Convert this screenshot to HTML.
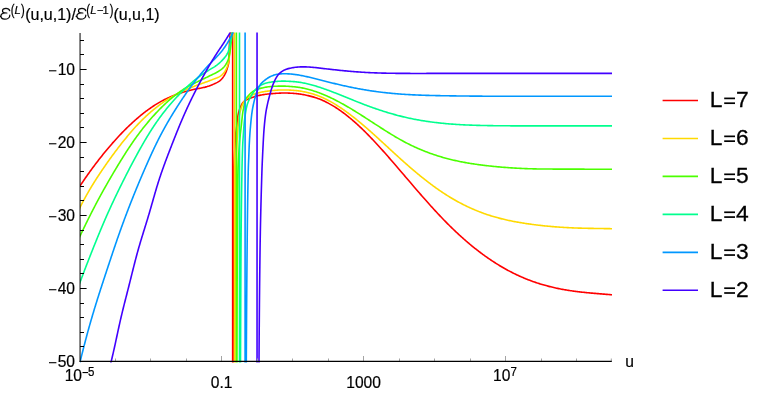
<!DOCTYPE html>
<html><head><meta charset="utf-8"><title>plot</title>
<style>
html,body{margin:0;padding:0;background:#fff;}
svg{display:block;font-family:"Liberation Sans",sans-serif;}
text{will-change:transform;stroke:#000;stroke-width:0.2px;}
.t{will-change:transform;}
</style></head>
<body>
<svg width="761" height="394" viewBox="0 0 761 394">
<rect width="761" height="394" fill="#fff"/>
<defs><clipPath id="c"><rect x="80.0" y="32.4" width="532.0" height="330.2"/></clipPath></defs>
<g clip-path="url(#c)" fill="none" stroke-width="1.6" stroke-linejoin="round" stroke-linecap="butt">
<path d="M70.10,202.40 L70.59,201.51 L71.08,200.63 L71.58,199.75 L72.08,198.87 L72.58,198.00 L73.08,197.13 L73.59,196.26 L74.10,195.40 L74.62,194.54 L75.14,193.68 L75.66,192.83 L76.18,191.97 L76.71,191.12 L77.24,190.28 L77.77,189.43 L78.31,188.59 L78.85,187.75 L79.39,186.91 L79.94,186.08 L80.48,185.25 L81.03,184.42 L81.59,183.59 L82.14,182.76 L82.70,181.93 L83.26,181.11 L83.82,180.29 L84.38,179.46 L84.95,178.64 L85.52,177.82 L86.09,177.01 L86.66,176.19 L87.24,175.37 L87.81,174.56 L88.39,173.75 L88.97,172.93 L89.55,172.12 L90.14,171.31 L90.72,170.50 L91.31,169.69 L91.90,168.89 L92.50,168.08 L93.09,167.28 L93.69,166.48 L94.28,165.67 L94.88,164.87 L95.49,164.08 L96.09,163.28 L96.70,162.48 L97.31,161.69 L97.92,160.90 L98.53,160.11 L99.14,159.32 L99.76,158.53 L100.38,157.74 L101.00,156.96 L101.62,156.17 L102.24,155.39 L102.87,154.61 L103.50,153.84 L104.13,153.06 L104.76,152.29 L105.39,151.52 L106.03,150.74 L106.67,149.98 L107.31,149.21 L107.95,148.45 L108.59,147.68 L109.24,146.92 L109.89,146.16 L110.54,145.41 L111.19,144.65 L111.84,143.90 L112.50,143.15 L113.16,142.40 L113.82,141.66 L114.48,140.92 L115.15,140.17 L115.82,139.44 L116.49,138.70 L117.16,137.97 L117.84,137.23 L118.51,136.50 L119.19,135.78 L119.88,135.05 L120.56,134.33 L121.25,133.61 L121.94,132.89 L122.64,132.18 L123.34,131.46 L124.04,130.76 L124.74,130.05 L125.44,129.34 L126.15,128.64 L126.86,127.94 L127.58,127.25 L128.30,126.55 L129.02,125.86 L129.74,125.17 L130.47,124.49 L131.20,123.80 L131.93,123.12 L132.67,122.45 L133.41,121.77 L134.15,121.10 L134.90,120.43 L135.65,119.77 L136.41,119.10 L137.16,118.45 L137.93,117.79 L138.69,117.14 L139.46,116.50 L140.23,115.86 L141.00,115.22 L141.78,114.58 L142.57,113.96 L143.35,113.33 L144.14,112.72 L144.94,112.10 L145.73,111.49 L146.53,110.89 L147.34,110.29 L148.15,109.70 L148.96,109.12 L149.77,108.54 L150.59,107.97 L151.42,107.40 L152.25,106.84 L153.08,106.29 L153.91,105.74 L154.75,105.20 L155.59,104.67 L156.44,104.14 L157.29,103.63 L158.15,103.12 L159.01,102.61 L159.87,102.12 L160.74,101.63 L161.61,101.15 L162.49,100.68 L163.37,100.22 L164.25,99.77 L165.14,99.32 L166.03,98.89 L166.93,98.46 L167.83,98.04 L168.73,97.62 L169.64,97.22 L170.55,96.82 L171.46,96.43 L172.38,96.05 L173.30,95.68 L174.23,95.31 L175.16,94.95 L176.09,94.60 L177.03,94.26 L177.96,93.93 L178.91,93.60 L179.85,93.28 L180.80,92.97 L181.75,92.66 L182.71,92.36 L183.66,92.07 L184.62,91.79 L185.59,91.51 L186.55,91.24 L187.52,90.98 L188.49,90.73 L189.46,90.48 L190.44,90.24 L191.42,90.00 L192.40,89.78 L193.38,89.56 L194.37,89.34 L195.36,89.14 L196.35,88.94 L197.34,88.74 L198.33,88.55 L199.33,88.36 L200.32,88.17 L201.31,87.97 L202.30,87.77 L203.27,87.57 L204.24,87.35 L205.21,87.12 L206.17,86.86 L207.12,86.59 L208.06,86.30 L209.00,85.99 L209.93,85.65 L210.86,85.30 L211.78,84.92 L212.70,84.54 L213.62,84.13 L214.55,83.72 L215.47,83.30 L216.39,82.87 L217.29,82.41 L218.17,81.92 L218.99,81.38 L219.78,80.81 L220.53,80.18 L221.24,79.50 L221.92,78.75 L222.55,77.97 L223.15,77.16 L223.72,76.34 L224.25,75.49 L224.75,74.62 L225.22,73.73 L225.66,72.83 L226.05,71.92 L226.42,70.99 L226.75,70.05 L227.06,69.10 L227.35,68.14 L227.63,67.17 L227.90,66.21 L228.17,65.24 L228.43,64.27 L228.63,63.29 L228.77,62.31 L228.86,61.33 L228.93,60.34 L228.97,59.34 L229.01,58.34 L229.05,57.34 L229.08,56.34 L229.10,55.33 L229.13,54.33 L229.16,53.32 L229.19,52.32 L229.22,51.32 L229.25,50.32 L229.29,49.32 L229.32,48.32 L229.35,47.32 L229.38,46.32 L229.41,45.32 L229.45,44.33 L229.49,43.33 L229.54,42.33 L229.60,41.33 L229.67,40.33 L229.74,39.34 L229.82,38.34 L229.90,37.34 L229.98,36.34 L230.06,35.35 L230.12,34.35 L230.18,33.35 L230.23,32.35 L230.27,31.35 L230.31,30.35 L230.35,29.36 L230.39,28.36 L230.43,27.36 L230.46,26.36 L230.49,25.36 L230.52,24.36 L230.54,23.36 L230.56,22.36 L230.58,21.40 L230.59,20.49 M232.65,28.00 L232.65,366.40 M233.00,380.00 L233.00,379.00 L233.01,378.00 L233.01,377.00 L233.01,376.00 L233.02,375.00 L233.02,374.00 L233.02,373.00 L233.03,372.00 L233.03,371.00 L233.03,370.00 L233.03,369.00 L233.04,368.00 L233.04,367.00 L233.04,366.00 L233.05,365.00 L233.05,364.00 L233.05,363.00 L233.06,362.00 L233.06,361.00 L233.06,360.00 L233.07,359.00 L233.07,358.00 L233.07,357.00 L233.08,356.00 L233.08,355.00 L233.08,354.00 L233.08,353.00 L233.09,352.00 L233.09,351.00 L233.09,350.00 L233.10,349.00 L233.10,348.00 L233.10,347.00 L233.10,346.00 L233.11,345.00 L233.11,344.00 L233.11,343.00 L233.11,342.00 L233.12,341.00 L233.12,340.00 L233.12,339.00 L233.12,338.00 L233.13,337.00 L233.13,336.00 L233.13,335.00 L233.13,334.00 L233.14,333.00 L233.14,332.00 L233.14,331.00 L233.14,330.00 L233.15,329.00 L233.15,328.00 L233.15,327.00 L233.15,326.00 L233.16,325.00 L233.16,324.00 L233.16,323.00 L233.16,322.00 L233.17,321.00 L233.17,320.00 L233.17,319.00 L233.17,318.00 L233.18,317.00 L233.18,316.00 L233.18,315.00 L233.18,314.00 L233.19,313.00 L233.19,312.00 L233.19,311.00 L233.19,310.00 L233.20,309.00 L233.20,308.00 L233.20,307.00 L233.21,306.00 L233.21,305.00 L233.21,304.00 L233.21,303.00 L233.22,302.00 L233.22,301.00 L233.22,300.00 L233.22,299.00 L233.23,298.00 L233.23,297.00 L233.23,296.00 L233.23,295.00 L233.24,294.00 L233.24,293.00 L233.24,292.00 L233.25,291.00 L233.25,290.00 L233.25,289.00 L233.26,288.00 L233.26,287.00 L233.26,286.00 L233.26,285.00 L233.27,284.00 L233.27,283.00 L233.27,282.00 L233.28,281.00 L233.28,280.00 L233.28,279.00 L233.29,278.00 L233.29,277.00 L233.29,276.00 L233.30,275.00 L233.30,274.00 L233.30,273.00 L233.31,272.00 L233.31,271.00 L233.32,270.00 L233.32,269.00 L233.32,268.00 L233.33,267.00 L233.33,266.00 L233.33,265.00 L233.34,264.00 L233.34,263.00 L233.35,262.00 L233.35,261.00 L233.35,260.00 L233.36,259.00 L233.36,258.00 L233.37,257.00 L233.37,256.00 L233.38,255.00 L233.38,254.00 L233.39,253.00 L233.39,252.00 L233.40,251.00 L233.40,250.00 L233.40,249.00 L233.41,248.00 L233.41,247.00 L233.42,246.00 L233.43,245.00 L233.43,244.00 L233.44,243.00 L233.44,242.00 L233.45,241.00 L233.45,240.00 L233.46,239.00 L233.46,238.00 L233.47,237.00 L233.48,236.00 L233.48,235.00 L233.49,234.00 L233.49,233.00 L233.50,232.00 L233.51,231.00 L233.51,230.00 L233.52,229.00 L233.53,228.00 L233.54,227.00 L233.54,226.00 L233.55,225.00 L233.56,224.00 L233.56,223.00 L233.57,222.00 L233.58,221.00 L233.59,220.00 L233.60,219.00 L233.60,218.00 L233.61,217.00 L233.62,216.00 L233.63,215.00 L233.64,214.00 L233.65,213.00 L233.66,212.00 L233.67,211.00 L233.67,210.00 L233.68,209.00 L233.69,208.00 L233.70,207.00 L233.71,206.00 L233.72,205.00 L233.73,204.00 L233.74,203.00 L233.76,202.00 L233.77,201.00 L233.78,200.00 L233.79,199.00 L233.80,198.00 L233.81,197.00 L233.82,196.00 L233.84,195.00 L233.85,194.00 L233.86,193.00 L233.87,192.00 L233.89,191.00 L233.90,190.00 L233.91,189.00 L233.92,188.00 L233.94,187.00 L233.95,186.00 L233.97,185.00 L233.98,184.00 L233.99,183.00 L234.01,182.00 L234.02,181.00 L234.04,180.00 L234.05,179.00 L234.07,178.00 L234.08,177.00 L234.10,176.00 L234.12,175.00 L234.13,174.00 L234.15,173.00 L234.17,172.00 L234.18,171.00 L234.20,170.00 L234.22,169.00 L234.24,168.01 L234.26,167.01 L234.28,166.00 L234.30,165.00 L234.32,164.00 L234.35,163.00 L234.38,162.00 L234.40,161.00 L234.43,160.00 L234.46,159.00 L234.49,158.00 L234.52,157.00 L234.56,156.00 L234.59,155.00 L234.63,154.00 L234.66,153.00 L234.70,152.00 L234.74,151.00 L234.79,150.00 L234.83,149.00 L234.87,148.00 L234.92,147.00 L234.97,146.00 L235.02,145.00 L235.07,144.00 L235.12,143.01 L235.17,142.01 L235.23,141.01 L235.29,140.01 L235.35,139.02 L235.41,138.02 L235.47,137.02 L235.54,136.03 L235.61,135.03 L235.69,134.04 L235.79,133.05 L235.91,132.05 L236.05,131.06 L236.19,130.07 L236.34,129.08 L236.48,128.09 L236.62,127.10 L236.76,126.11 L236.87,125.11 L236.97,124.12 L237.06,123.12 L237.13,122.12 L237.20,121.13 L237.29,120.13 L237.39,119.14 L237.52,118.15 L237.67,117.16 L237.85,116.17 L238.04,115.18 L238.25,114.20 L238.48,113.23 L238.72,112.26 L238.98,111.29 L239.26,110.33 L239.56,109.36 L239.89,108.40 L240.26,107.45 L240.65,106.52 L241.07,105.62 L241.52,104.74 L242.02,103.90 L242.59,103.08 L243.22,102.30 L243.92,101.58 L244.67,100.93 L245.47,100.38 L246.32,99.89 L247.22,99.46 L248.15,99.06 L249.10,98.69 L250.04,98.33 L250.99,97.97 L251.93,97.62 L252.87,97.27 L253.81,96.93 L254.76,96.60 L255.72,96.30 L256.68,96.02 L257.64,95.77 L258.61,95.55 L259.58,95.35 L260.56,95.15 L261.54,94.97 L262.52,94.80 L263.51,94.63 L264.50,94.48 L265.49,94.33 L266.49,94.19 L267.48,94.06 L268.48,93.95 L269.48,93.84 L270.48,93.75 L271.47,93.66 L272.47,93.58 L273.46,93.51 L274.46,93.44 L275.46,93.37 L276.46,93.30 L277.46,93.24 L278.45,93.18 L279.45,93.13 L280.45,93.09 L281.45,93.06 L282.45,93.04 L283.45,93.02 L284.45,93.02 L285.45,93.02 L286.45,93.04 L287.45,93.06 L288.45,93.10 L289.45,93.14 L290.45,93.19 L291.45,93.24 L292.45,93.31 L293.44,93.38 L294.44,93.46 L295.43,93.55 L296.42,93.65 L297.41,93.76 L298.40,93.88 L299.39,94.01 L300.37,94.15 L301.35,94.31 L302.33,94.47 L303.31,94.64 L304.29,94.82 L305.26,95.02 L306.23,95.22 L307.20,95.43 L308.17,95.65 L309.13,95.88 L310.09,96.11 L311.05,96.36 L312.01,96.61 L312.96,96.87 L313.91,97.14 L314.86,97.42 L315.81,97.73 L316.75,98.05 L317.69,98.39 L318.62,98.73 L319.56,99.09 L320.49,99.47 L321.41,99.85 L322.33,100.25 L323.25,100.66 L324.17,101.08 L325.08,101.52 L325.98,101.96 L326.88,102.41 L327.78,102.88 L328.67,103.35 L329.55,103.83 L330.43,104.33 L331.31,104.83 L332.18,105.34 L333.05,105.86 L333.92,106.39 L334.79,106.92 L335.65,107.47 L336.51,108.03 L337.37,108.60 L338.23,109.17 L339.08,109.75 L339.93,110.34 L340.78,110.94 L341.62,111.54 L342.45,112.15 L343.27,112.75 L344.08,113.36 L344.89,113.97 L345.68,114.58 L346.46,115.19 L347.23,115.80 L348.00,116.41 L348.75,117.02 L349.51,117.64 L350.25,118.26 L351.00,118.88 L351.74,119.51 L352.49,120.14 L353.23,120.78 L353.97,121.42 L354.70,122.07 L355.44,122.72 L356.16,123.37 L356.89,124.02 L357.60,124.68 L358.31,125.33 L359.02,125.98 L359.72,126.64 L360.42,127.29 L361.11,127.95 L361.81,128.62 L362.51,129.29 L363.21,129.97 L363.92,130.66 L364.62,131.35 L365.32,132.05 L366.03,132.75 L366.73,133.45 L367.43,134.16 L368.12,134.86 L368.81,135.57 L369.50,136.27 L370.18,136.97 L370.86,137.68 L371.53,138.38 L372.21,139.09 L372.88,139.81 L373.56,140.53 L374.25,141.25 L374.93,141.99 L375.62,142.72 L376.31,143.47 L377.00,144.22 L377.69,144.97 L378.38,145.72 L379.06,146.46 L379.73,147.21 L380.40,147.95 L381.07,148.69 L381.73,149.42 L382.38,150.15 L383.03,150.88 L383.68,151.61 L384.33,152.34 L384.98,153.07 L385.64,153.81 L386.29,154.55 L386.95,155.30 L387.62,156.06 L388.29,156.83 L388.97,157.60 L389.64,158.38 L390.32,159.16 L391.00,159.94 L391.67,160.71 L392.34,161.49 L393.01,162.26 L393.67,163.02 L394.32,163.78 L394.96,164.53 L395.61,165.28 L396.24,166.02 L396.87,166.76 L397.51,167.49 L398.14,168.23 L398.77,168.97 L399.40,169.71 L400.04,170.46 L400.69,171.22 L401.34,171.98 L402.00,172.75 L402.66,173.53 L403.33,174.31 L404.00,175.10 L404.68,175.89 L405.35,176.68 L406.03,177.47 L406.70,178.26 L407.36,179.04 L408.02,179.81 L408.68,180.58 L409.33,181.33 L409.97,182.08 L410.60,182.83 L411.24,183.56 L411.86,184.30 L412.49,185.03 L413.12,185.76 L413.74,186.49 L414.37,187.22 L415.01,187.96 L415.65,188.70 L416.30,189.45 L416.96,190.21 L417.62,190.98 L418.29,191.76 L418.97,192.54 L419.65,193.32 L420.34,194.11 L421.03,194.90 L421.72,195.69 L422.41,196.48 L423.10,197.26 L423.78,198.04 L424.47,198.82 L425.14,199.58 L425.82,200.34 L426.48,201.10 L427.14,201.84 L427.80,202.58 L428.45,203.31 L429.10,204.03 L429.75,204.75 L430.39,205.46 L431.03,206.17 L431.67,206.88 L432.31,207.58 L432.95,208.29 L433.59,208.99 L434.23,209.69 L434.88,210.40 L435.53,211.10 L436.18,211.81 L436.84,212.52 L437.50,213.23 L438.17,213.94 L438.84,214.66 L439.52,215.37 L440.20,216.10 L440.89,216.82 L441.58,217.54 L442.27,218.27 L442.97,219.00 L443.68,219.72 L444.38,220.45 L445.09,221.18 L445.80,221.90 L446.52,222.63 L447.23,223.35 L447.95,224.07 L448.67,224.78 L449.39,225.50 L450.11,226.21 L450.83,226.92 L451.55,227.63 L452.28,228.33 L453.00,229.03 L453.73,229.73 L454.46,230.43 L455.19,231.12 L455.92,231.81 L456.66,232.50 L457.39,233.19 L458.13,233.87 L458.87,234.55 L459.61,235.23 L460.35,235.91 L461.10,236.59 L461.85,237.26 L462.60,237.93 L463.35,238.60 L464.10,239.26 L464.86,239.93 L465.62,240.59 L466.38,241.25 L467.14,241.90 L467.90,242.55 L468.67,243.20 L469.43,243.84 L470.20,244.49 L470.97,245.12 L471.74,245.76 L472.51,246.39 L473.28,247.02 L474.06,247.64 L474.83,248.26 L475.61,248.88 L476.39,249.49 L477.17,250.10 L477.96,250.71 L478.74,251.32 L479.53,251.92 L480.32,252.51 L481.11,253.11 L481.90,253.70 L482.70,254.29 L483.50,254.87 L484.30,255.46 L485.11,256.04 L485.92,256.61 L486.73,257.19 L487.55,257.76 L488.37,258.33 L489.20,258.90 L490.03,259.46 L490.86,260.03 L491.70,260.59 L492.54,261.14 L493.39,261.70 L494.24,262.25 L495.10,262.79 L495.95,263.33 L496.81,263.87 L497.67,264.41 L498.53,264.94 L499.40,265.46 L500.26,265.98 L501.13,266.49 L501.99,267.00 L502.86,267.51 L503.73,268.00 L504.60,268.50 L505.48,268.99 L506.35,269.47 L507.23,269.95 L508.10,270.43 L508.98,270.89 L509.87,271.36 L510.75,271.82 L511.64,272.28 L512.53,272.73 L513.42,273.17 L514.31,273.61 L515.20,274.05 L516.10,274.48 L517.00,274.91 L517.90,275.33 L518.81,275.75 L519.71,276.16 L520.62,276.56 L521.53,276.97 L522.45,277.36 L523.36,277.75 L524.28,278.14 L525.20,278.52 L526.12,278.90 L527.04,279.27 L527.97,279.64 L528.90,280.00 L529.83,280.35 L530.77,280.70 L531.70,281.05 L532.64,281.39 L533.58,281.72 L534.52,282.05 L535.47,282.37 L536.42,282.69 L537.36,283.01 L538.32,283.31 L539.27,283.62 L540.22,283.91 L541.18,284.21 L542.14,284.49 L543.10,284.78 L544.06,285.05 L545.02,285.32 L545.98,285.59 L546.95,285.85 L547.92,286.11 L548.88,286.36 L549.85,286.60 L550.82,286.85 L551.80,287.08 L552.77,287.31 L553.74,287.54 L554.72,287.76 L555.70,287.98 L556.67,288.19 L557.65,288.40 L558.63,288.60 L559.61,288.80 L560.60,288.99 L561.58,289.18 L562.56,289.36 L563.55,289.54 L564.53,289.72 L565.52,289.89 L566.51,290.06 L567.49,290.22 L568.48,290.38 L569.47,290.53 L570.46,290.68 L571.45,290.83 L572.44,290.97 L573.43,291.11 L574.42,291.24 L575.41,291.37 L576.40,291.50 L577.39,291.62 L578.39,291.74 L579.38,291.86 L580.37,291.98 L581.37,292.09 L582.36,292.20 L583.35,292.30 L584.35,292.41 L585.34,292.51 L586.33,292.61 L587.33,292.71 L588.32,292.80 L589.32,292.89 L590.31,292.99 L591.31,293.08 L592.30,293.16 L593.30,293.25 L594.29,293.34 L595.29,293.42 L596.28,293.51 L597.28,293.59 L598.27,293.67 L599.27,293.76 L600.26,293.84 L601.26,293.92 L602.25,294.00 L603.24,294.08 L604.23,294.16 L605.21,294.25 L606.18,294.33 L607.15,294.41 L608.11,294.49 L609.05,294.57 L609.98,294.65 L610.89,294.73 L611.78,294.81 L612.64,294.88 L613.47,294.96 L614.28,295.03 L615.06,295.10" stroke="#ff0000"/>
<path d="M69.87,227.06 L70.35,226.19 L70.83,225.32 L71.31,224.45 L71.79,223.57 L72.26,222.69 L72.72,221.81 L73.19,220.93 L73.65,220.04 L74.11,219.16 L74.56,218.27 L75.02,217.38 L75.47,216.48 L75.92,215.59 L76.37,214.70 L76.82,213.80 L77.27,212.91 L77.72,212.01 L78.16,211.11 L78.61,210.22 L79.06,209.32 L79.51,208.43 L79.96,207.53 L80.41,206.64 L80.86,205.74 L81.32,204.85 L81.78,203.96 L82.23,203.07 L82.70,202.18 L83.16,201.29 L83.63,200.41 L84.10,199.53 L84.58,198.65 L85.06,197.77 L85.54,196.89 L86.02,196.02 L86.51,195.14 L87.00,194.27 L87.50,193.41 L88.00,192.54 L88.50,191.67 L89.00,190.81 L89.51,189.95 L90.02,189.09 L90.53,188.23 L91.04,187.38 L91.56,186.52 L92.08,185.67 L92.60,184.82 L93.13,183.97 L93.66,183.12 L94.19,182.27 L94.72,181.43 L95.26,180.59 L95.79,179.74 L96.33,178.90 L96.88,178.06 L97.42,177.23 L97.97,176.39 L98.51,175.55 L99.06,174.72 L99.62,173.89 L100.17,173.05 L100.73,172.22 L101.28,171.39 L101.84,170.56 L102.40,169.74 L102.97,168.91 L103.53,168.08 L104.09,167.26 L104.66,166.43 L105.23,165.61 L105.80,164.79 L106.37,163.97 L106.95,163.15 L107.52,162.33 L108.10,161.51 L108.68,160.70 L109.26,159.88 L109.84,159.07 L110.43,158.26 L111.01,157.44 L111.60,156.63 L112.19,155.83 L112.78,155.02 L113.37,154.21 L113.97,153.41 L114.56,152.61 L115.16,151.80 L115.76,151.00 L116.36,150.20 L116.97,149.41 L117.57,148.61 L118.18,147.82 L118.79,147.02 L119.40,146.23 L120.01,145.44 L120.63,144.65 L121.25,143.87 L121.86,143.08 L122.49,142.30 L123.11,141.52 L123.73,140.74 L124.36,139.96 L124.99,139.18 L125.62,138.41 L126.25,137.64 L126.89,136.87 L127.53,136.10 L128.17,135.33 L128.81,134.57 L129.45,133.81 L130.10,133.05 L130.75,132.29 L131.41,131.53 L132.06,130.78 L132.72,130.03 L133.38,129.29 L134.05,128.54 L134.71,127.80 L135.39,127.06 L136.06,126.33 L136.74,125.60 L137.42,124.87 L138.10,124.14 L138.79,123.42 L139.48,122.70 L140.18,121.99 L140.88,121.27 L141.58,120.56 L142.28,119.86 L142.99,119.16 L143.71,118.46 L144.43,117.77 L145.15,117.08 L145.87,116.39 L146.61,115.71 L147.34,115.04 L148.08,114.36 L148.82,113.69 L149.57,113.03 L150.32,112.37 L151.08,111.71 L151.84,111.06 L152.61,110.42 L153.38,109.78 L154.15,109.14 L154.93,108.51 L155.71,107.88 L156.50,107.26 L157.29,106.65 L158.09,106.04 L158.88,105.43 L159.69,104.83 L160.50,104.24 L161.31,103.65 L162.12,103.07 L162.94,102.49 L163.76,101.92 L164.59,101.36 L165.42,100.80 L166.26,100.25 L167.10,99.70 L167.94,99.17 L168.79,98.63 L169.64,98.11 L170.49,97.59 L171.35,97.07 L172.21,96.57 L173.08,96.07 L173.94,95.58 L174.82,95.09 L175.69,94.62 L176.57,94.15 L177.46,93.68 L178.34,93.23 L179.23,92.78 L180.13,92.34 L181.02,91.90 L181.92,91.48 L182.83,91.05 L183.73,90.64 L184.64,90.23 L185.55,89.83 L186.47,89.43 L187.38,89.04 L188.30,88.65 L189.22,88.27 L190.15,87.89 L191.07,87.51 L192.00,87.14 L192.93,86.78 L193.86,86.42 L194.80,86.06 L195.73,85.71 L196.67,85.35 L197.61,85.01 L198.55,84.66 L199.49,84.32 L200.43,83.98 L201.38,83.64 L202.32,83.31 L203.27,82.98 L204.22,82.66 L205.17,82.34 L206.12,82.01 L207.06,81.67 L208.00,81.33 L208.93,80.97 L209.86,80.61 L210.79,80.24 L211.72,79.87 L212.65,79.49 L213.59,79.12 L214.54,78.77 L215.50,78.43 L216.46,78.08 L217.40,77.73 L218.32,77.35 L219.18,76.91 L220.01,76.42 L220.81,75.87 L221.58,75.24 L222.32,74.55 L223.02,73.81 L223.68,73.03 L224.28,72.24 L224.84,71.42 L225.36,70.58 L225.84,69.70 L226.29,68.80 L226.71,67.88 L227.10,66.95 L227.45,66.01 L227.78,65.07 L228.09,64.11 L228.37,63.15 L228.62,62.18 L228.82,61.20 L228.98,60.22 L229.12,59.24 L229.24,58.25 L229.35,57.25 L229.44,56.25 L229.53,55.25 L229.62,54.25 L229.70,53.25 L229.78,52.26 L229.85,51.26 L229.93,50.26 L229.99,49.26 L230.06,48.27 L230.12,47.27 L230.18,46.27 L230.24,45.27 L230.31,44.27 L230.37,43.27 L230.45,42.28 L230.52,41.28 L230.61,40.28 L230.70,39.29 L230.80,38.29 L230.90,37.30 L231.00,36.30 L231.10,35.31 L231.19,34.31 L231.27,33.32 L231.34,32.32 L231.41,31.32 L231.48,30.32 L231.54,29.33 L231.61,28.33 L231.67,27.33 L231.72,26.33 L231.78,25.33 L231.83,24.33 L231.87,23.34 L231.91,22.34 L231.95,21.38 L231.98,20.49 M234.50,28.00 L234.50,366.40 M234.90,380.00 L234.90,379.00 L234.91,378.00 L234.91,377.00 L234.91,376.00 L234.91,375.00 L234.92,374.00 L234.92,373.00 L234.92,372.00 L234.92,371.00 L234.93,370.00 L234.93,369.00 L234.93,368.00 L234.93,367.00 L234.94,366.00 L234.94,365.00 L234.94,364.00 L234.94,363.00 L234.95,362.00 L234.95,361.00 L234.95,360.00 L234.96,359.00 L234.96,358.00 L234.96,357.00 L234.96,356.00 L234.97,355.00 L234.97,354.00 L234.97,353.00 L234.97,352.00 L234.98,351.00 L234.98,350.00 L234.98,349.00 L234.99,348.00 L234.99,347.00 L234.99,346.00 L234.99,345.00 L235.00,344.00 L235.00,343.00 L235.00,342.00 L235.00,341.00 L235.01,340.00 L235.01,339.00 L235.01,338.00 L235.01,337.00 L235.02,336.00 L235.02,335.00 L235.02,334.00 L235.02,333.00 L235.03,332.00 L235.03,331.00 L235.03,330.00 L235.03,329.00 L235.04,328.00 L235.04,327.00 L235.04,326.00 L235.04,325.00 L235.05,324.00 L235.05,323.00 L235.05,322.00 L235.05,321.00 L235.06,320.00 L235.06,319.00 L235.06,318.00 L235.06,317.00 L235.07,316.00 L235.07,315.00 L235.07,314.00 L235.08,313.00 L235.08,312.00 L235.08,311.00 L235.08,310.00 L235.09,309.00 L235.09,308.00 L235.09,307.00 L235.09,306.00 L235.10,305.00 L235.10,304.00 L235.10,303.00 L235.11,302.00 L235.11,301.00 L235.11,300.00 L235.11,299.00 L235.12,298.00 L235.12,297.00 L235.12,296.00 L235.13,295.00 L235.13,294.00 L235.13,293.00 L235.14,292.00 L235.14,291.00 L235.14,290.00 L235.14,289.00 L235.15,288.00 L235.15,287.00 L235.15,286.00 L235.16,285.00 L235.16,284.00 L235.16,283.00 L235.17,282.00 L235.17,281.00 L235.17,280.00 L235.18,279.00 L235.18,278.00 L235.19,277.00 L235.19,276.00 L235.19,275.00 L235.20,274.00 L235.20,273.00 L235.20,272.00 L235.21,271.00 L235.21,270.00 L235.22,269.00 L235.22,268.00 L235.22,267.00 L235.23,266.00 L235.23,265.00 L235.24,264.00 L235.24,263.00 L235.24,262.00 L235.25,261.00 L235.25,260.00 L235.26,259.00 L235.26,258.00 L235.27,257.00 L235.27,256.00 L235.28,255.00 L235.28,254.00 L235.29,253.00 L235.29,252.00 L235.30,251.00 L235.30,250.00 L235.31,249.00 L235.31,248.00 L235.32,247.00 L235.32,246.00 L235.33,245.00 L235.33,244.00 L235.34,243.00 L235.34,242.00 L235.35,241.00 L235.35,240.00 L235.36,239.00 L235.37,238.00 L235.37,237.00 L235.38,236.00 L235.38,235.00 L235.39,234.00 L235.40,233.00 L235.40,232.00 L235.41,231.00 L235.42,230.00 L235.42,229.00 L235.43,228.00 L235.44,227.00 L235.45,226.00 L235.45,225.00 L235.46,224.00 L235.47,223.00 L235.48,222.00 L235.48,221.00 L235.49,220.00 L235.50,219.00 L235.51,218.00 L235.52,217.00 L235.52,216.00 L235.53,215.00 L235.54,214.00 L235.55,213.00 L235.56,212.00 L235.57,211.00 L235.58,210.00 L235.59,209.00 L235.60,208.00 L235.61,207.00 L235.62,206.00 L235.63,205.00 L235.64,204.00 L235.65,203.00 L235.66,202.00 L235.67,201.00 L235.68,200.00 L235.69,199.00 L235.70,198.00 L235.72,197.00 L235.73,196.00 L235.74,195.00 L235.75,194.00 L235.76,193.00 L235.78,192.00 L235.79,191.00 L235.80,190.00 L235.81,189.00 L235.83,188.00 L235.84,187.00 L235.86,186.00 L235.87,185.00 L235.88,184.00 L235.90,183.00 L235.91,182.00 L235.93,181.00 L235.94,180.00 L235.96,179.00 L235.97,178.00 L235.99,177.00 L236.00,176.00 L236.02,175.00 L236.03,174.00 L236.05,173.00 L236.07,172.00 L236.08,171.00 L236.10,170.00 L236.12,169.00 L236.14,168.01 L236.16,167.01 L236.18,166.01 L236.20,165.01 L236.23,164.01 L236.25,163.01 L236.28,162.01 L236.30,161.01 L236.33,160.01 L236.36,159.01 L236.39,158.01 L236.43,157.01 L236.46,156.01 L236.49,155.01 L236.53,154.01 L236.57,153.01 L236.60,152.01 L236.64,151.01 L236.68,150.01 L236.72,149.01 L236.77,148.01 L236.81,147.01 L236.85,146.01 L236.90,145.01 L236.94,144.01 L236.99,143.02 L237.04,142.02 L237.09,141.02 L237.14,140.02 L237.19,139.02 L237.24,138.02 L237.29,137.02 L237.35,136.03 L237.40,135.03 L237.46,134.03 L237.52,133.03 L237.59,132.04 L237.67,131.04 L237.75,130.04 L237.83,129.04 L237.92,128.05 L238.01,127.05 L238.11,126.06 L238.20,125.06 L238.30,124.07 L238.41,123.07 L238.51,122.07 L238.62,121.08 L238.74,120.08 L238.86,119.08 L238.98,118.09 L239.12,117.10 L239.27,116.11 L239.42,115.12 L239.60,114.14 L239.79,113.17 L240.02,112.20 L240.29,111.24 L240.58,110.28 L240.88,109.32 L241.19,108.36 L241.48,107.40 L241.79,106.43 L242.12,105.49 L242.47,104.56 L242.88,103.66 L243.34,102.79 L243.87,101.94 L244.46,101.12 L245.09,100.33 L245.76,99.60 L246.46,98.90 L247.20,98.24 L247.97,97.60 L248.78,96.99 L249.62,96.41 L250.48,95.86 L251.36,95.36 L252.24,94.90 L253.14,94.50 L254.05,94.13 L254.98,93.79 L255.93,93.47 L256.89,93.18 L257.87,92.91 L258.85,92.66 L259.83,92.44 L260.81,92.23 L261.79,92.04 L262.77,91.86 L263.75,91.68 L264.74,91.52 L265.73,91.37 L266.72,91.22 L267.72,91.09 L268.71,90.97 L269.71,90.85 L270.70,90.75 L271.70,90.65 L272.69,90.55 L273.69,90.46 L274.68,90.37 L275.68,90.29 L276.68,90.21 L277.68,90.14 L278.68,90.07 L279.68,90.02 L280.67,89.98 L281.67,89.95 L282.67,89.94 L283.67,89.93 L284.67,89.94 L285.67,89.96 L286.67,89.99 L287.67,90.02 L288.67,90.07 L289.67,90.12 L290.67,90.17 L291.67,90.23 L292.67,90.30 L293.66,90.38 L294.65,90.46 L295.65,90.55 L296.64,90.65 L297.63,90.76 L298.61,90.89 L299.60,91.02 L300.58,91.16 L301.56,91.32 L302.54,91.49 L303.51,91.67 L304.49,91.86 L305.46,92.06 L306.43,92.28 L307.40,92.50 L308.37,92.74 L309.33,92.99 L310.29,93.24 L311.25,93.51 L312.21,93.78 L313.16,94.07 L314.11,94.36 L315.06,94.67 L316.01,95.00 L316.95,95.33 L317.89,95.68 L318.83,96.04 L319.76,96.42 L320.69,96.80 L321.61,97.19 L322.53,97.60 L323.45,98.01 L324.36,98.44 L325.27,98.87 L326.17,99.31 L327.07,99.76 L327.97,100.22 L328.86,100.69 L329.74,101.17 L330.62,101.65 L331.50,102.14 L332.37,102.64 L333.24,103.14 L334.10,103.65 L334.96,104.17 L335.82,104.69 L336.67,105.22 L337.52,105.75 L338.37,106.30 L339.22,106.84 L340.06,107.40 L340.90,107.96 L341.74,108.53 L342.58,109.10 L343.41,109.68 L344.25,110.26 L345.08,110.85 L345.90,111.44 L346.73,112.04 L347.54,112.64 L348.36,113.24 L349.16,113.84 L349.97,114.44 L350.76,115.05 L351.56,115.66 L352.35,116.27 L353.13,116.88 L353.92,117.50 L354.70,118.12 L355.48,118.74 L356.26,119.37 L357.04,120.00 L357.82,120.64 L358.59,121.27 L359.36,121.91 L360.13,122.54 L360.88,123.17 L361.63,123.80 L362.37,124.42 L363.10,125.05 L363.83,125.67 L364.55,126.28 L365.27,126.90 L365.98,127.52 L366.70,128.14 L367.41,128.77 L368.14,129.40 L368.86,130.04 L369.60,130.69 L370.34,131.34 L371.08,132.00 L371.82,132.66 L372.57,133.33 L373.31,134.00 L374.06,134.67 L374.80,135.34 L375.54,136.01 L376.28,136.68 L377.02,137.35 L377.75,138.02 L378.49,138.69 L379.23,139.36 L379.97,140.04 L380.71,140.72 L381.45,141.40 L382.20,142.09 L382.95,142.78 L383.71,143.47 L384.46,144.17 L385.22,144.87 L385.97,145.56 L386.72,146.25 L387.47,146.94 L388.22,147.63 L388.95,148.31 L389.69,148.99 L390.42,149.66 L391.15,150.33 L391.87,151.00 L392.59,151.66 L393.32,152.33 L394.04,152.99 L394.77,153.66 L395.50,154.33 L396.24,155.00 L396.98,155.67 L397.72,156.35 L398.47,157.03 L399.23,157.72 L399.98,158.40 L400.74,159.09 L401.51,159.78 L402.27,160.46 L403.03,161.14 L403.79,161.82 L404.54,162.49 L405.29,163.15 L406.04,163.81 L406.78,164.46 L407.52,165.11 L408.25,165.75 L408.99,166.39 L409.72,167.03 L410.45,167.66 L411.19,168.29 L411.92,168.92 L412.66,169.56 L413.41,170.19 L414.16,170.83 L414.92,171.47 L415.69,172.11 L416.46,172.76 L417.24,173.41 L418.03,174.06 L418.83,174.71 L419.62,175.37 L420.43,176.02 L421.23,176.67 L422.04,177.32 L422.84,177.96 L423.64,178.60 L424.45,179.24 L425.24,179.86 L426.04,180.48 L426.83,181.10 L427.61,181.70 L428.39,182.30 L429.17,182.90 L429.95,183.48 L430.72,184.07 L431.49,184.64 L432.27,185.22 L433.04,185.79 L433.81,186.35 L434.59,186.92 L435.38,187.48 L436.17,188.05 L436.96,188.61 L437.76,189.18 L438.57,189.74 L439.39,190.31 L440.21,190.87 L441.04,191.44 L441.88,192.00 L442.72,192.56 L443.57,193.13 L444.42,193.68 L445.28,194.24 L446.14,194.79 L447.01,195.34 L447.87,195.88 L448.74,196.42 L449.60,196.95 L450.47,197.47 L451.33,197.99 L452.20,198.51 L453.06,199.01 L453.93,199.51 L454.79,200.01 L455.66,200.50 L456.52,200.98 L457.39,201.46 L458.26,201.93 L459.13,202.40 L460.00,202.87 L460.88,203.33 L461.76,203.79 L462.64,204.24 L463.52,204.69 L464.41,205.13 L465.31,205.57 L466.20,206.01 L467.10,206.44 L468.00,206.87 L468.91,207.29 L469.82,207.71 L470.73,208.12 L471.65,208.53 L472.56,208.93 L473.49,209.33 L474.41,209.73 L475.33,210.12 L476.26,210.50 L477.19,210.88 L478.12,211.25 L479.06,211.62 L480.00,211.98 L480.93,212.34 L481.87,212.70 L482.81,213.04 L483.76,213.38 L484.70,213.72 L485.65,214.05 L486.59,214.38 L487.54,214.70 L488.49,215.01 L489.44,215.32 L490.39,215.62 L491.35,215.92 L492.30,216.21 L493.25,216.50 L494.21,216.78 L495.17,217.05 L496.13,217.32 L497.09,217.59 L498.05,217.85 L499.01,218.11 L499.97,218.36 L500.94,218.61 L501.91,218.85 L502.88,219.09 L503.85,219.32 L504.82,219.55 L505.80,219.78 L506.77,220.00 L507.75,220.21 L508.72,220.42 L509.70,220.63 L510.68,220.83 L511.66,221.03 L512.64,221.23 L513.63,221.42 L514.61,221.61 L515.59,221.79 L516.58,221.97 L517.56,222.15 L518.55,222.32 L519.53,222.49 L520.52,222.66 L521.51,222.82 L522.49,222.98 L523.48,223.14 L524.47,223.29 L525.46,223.44 L526.44,223.59 L527.43,223.74 L528.42,223.88 L529.41,224.02 L530.40,224.15 L531.39,224.29 L532.38,224.42 L533.37,224.55 L534.36,224.68 L535.35,224.81 L536.35,224.93 L537.34,225.05 L538.33,225.17 L539.32,225.28 L540.32,225.40 L541.31,225.51 L542.31,225.62 L543.30,225.72 L544.30,225.83 L545.29,225.93 L546.29,226.03 L547.28,226.13 L548.28,226.22 L549.27,226.32 L550.27,226.41 L551.26,226.49 L552.26,226.58 L553.26,226.66 L554.25,226.75 L555.25,226.83 L556.24,226.90 L557.24,226.98 L558.24,227.05 L559.24,227.12 L560.23,227.19 L561.23,227.26 L562.23,227.32 L563.23,227.38 L564.22,227.44 L565.22,227.50 L566.22,227.56 L567.22,227.61 L568.22,227.67 L569.22,227.72 L570.22,227.76 L571.22,227.81 L572.21,227.85 L573.21,227.89 L574.21,227.93 L575.21,227.97 L576.21,228.01 L577.21,228.04 L578.21,228.08 L579.21,228.11 L580.21,228.14 L581.21,228.17 L582.21,228.19 L583.21,228.22 L584.21,228.24 L585.21,228.27 L586.21,228.29 L587.21,228.31 L588.21,228.33 L589.21,228.35 L590.21,228.37 L591.21,228.39 L592.21,228.40 L593.21,228.42 L594.21,228.44 L595.20,228.45 L596.20,228.47 L597.20,228.48 L598.20,228.50 L599.20,228.51 L600.20,228.53 L601.20,228.54 L602.19,228.55 L603.19,228.57 L604.18,228.58 L605.16,228.60 L606.15,228.61 L607.12,228.63 L608.08,228.64 L609.03,228.66 L609.97,228.67 L610.88,228.69 L611.78,228.71 L612.66,228.72 L613.51,228.74 L614.33,228.75 L615.13,228.77" stroke="#ffd900"/>
<path d="M70.01,258.06 L70.41,257.14 L70.82,256.23 L71.22,255.31 L71.62,254.40 L72.03,253.48 L72.44,252.57 L72.84,251.65 L73.25,250.74 L73.66,249.83 L74.08,248.92 L74.49,248.01 L74.90,247.10 L75.32,246.19 L75.73,245.28 L76.15,244.37 L76.57,243.46 L76.99,242.55 L77.41,241.64 L77.83,240.74 L78.25,239.83 L78.67,238.93 L79.10,238.02 L79.52,237.12 L79.95,236.21 L80.38,235.31 L80.81,234.40 L81.23,233.50 L81.67,232.60 L82.10,231.70 L82.53,230.79 L82.96,229.89 L83.40,228.99 L83.83,228.09 L84.27,227.19 L84.71,226.29 L85.14,225.39 L85.58,224.49 L86.02,223.59 L86.46,222.70 L86.91,221.80 L87.35,220.90 L87.79,220.00 L88.24,219.11 L88.69,218.21 L89.13,217.32 L89.58,216.42 L90.03,215.53 L90.48,214.64 L90.93,213.75 L91.39,212.86 L91.84,211.97 L92.30,211.08 L92.75,210.19 L93.21,209.30 L93.67,208.41 L94.13,207.52 L94.59,206.64 L95.05,205.75 L95.52,204.87 L95.98,203.98 L96.45,203.10 L96.91,202.22 L97.38,201.34 L97.85,200.46 L98.32,199.58 L98.79,198.70 L99.27,197.82 L99.74,196.95 L100.22,196.07 L100.69,195.20 L101.17,194.33 L101.65,193.45 L102.13,192.58 L102.61,191.71 L103.09,190.84 L103.58,189.97 L104.06,189.10 L104.55,188.24 L105.04,187.37 L105.53,186.50 L106.02,185.64 L106.51,184.77 L107.00,183.91 L107.49,183.04 L107.99,182.18 L108.48,181.32 L108.98,180.46 L109.48,179.60 L109.98,178.73 L110.48,177.87 L110.98,177.01 L111.48,176.16 L111.99,175.30 L112.49,174.44 L113.00,173.58 L113.50,172.72 L114.01,171.87 L114.52,171.01 L115.03,170.15 L115.54,169.30 L116.05,168.44 L116.57,167.59 L117.08,166.73 L117.60,165.88 L118.11,165.02 L118.63,164.17 L119.15,163.31 L119.67,162.46 L120.19,161.61 L120.72,160.76 L121.24,159.91 L121.77,159.06 L122.30,158.21 L122.83,157.36 L123.36,156.51 L123.89,155.66 L124.42,154.82 L124.96,153.97 L125.50,153.13 L126.04,152.29 L126.58,151.44 L127.13,150.60 L127.67,149.77 L128.22,148.93 L128.77,148.09 L129.32,147.26 L129.88,146.43 L130.44,145.59 L131.00,144.76 L131.56,143.94 L132.12,143.11 L132.69,142.29 L133.26,141.46 L133.83,140.64 L134.41,139.82 L134.98,139.01 L135.56,138.19 L136.15,137.38 L136.73,136.57 L137.32,135.76 L137.91,134.96 L138.51,134.15 L139.10,133.35 L139.70,132.55 L140.31,131.75 L140.91,130.96 L141.52,130.17 L142.14,129.38 L142.75,128.59 L143.37,127.81 L143.99,127.02 L144.62,126.24 L145.24,125.47 L145.87,124.69 L146.51,123.92 L147.14,123.15 L147.78,122.38 L148.43,121.62 L149.07,120.86 L149.72,120.10 L150.38,119.34 L151.03,118.59 L151.69,117.84 L152.35,117.09 L153.02,116.34 L153.69,115.60 L154.36,114.86 L155.04,114.13 L155.71,113.39 L156.40,112.66 L157.08,111.93 L157.77,111.21 L158.46,110.49 L159.16,109.77 L159.86,109.05 L160.56,108.34 L161.27,107.63 L161.98,106.93 L162.69,106.23 L163.41,105.53 L164.13,104.84 L164.86,104.15 L165.58,103.46 L166.32,102.78 L167.05,102.11 L167.80,101.44 L168.54,100.77 L169.29,100.11 L170.04,99.45 L170.80,98.80 L171.56,98.16 L172.33,97.52 L173.10,96.89 L173.88,96.26 L174.66,95.64 L175.44,95.03 L176.23,94.42 L177.03,93.82 L177.83,93.23 L178.63,92.65 L179.44,92.07 L180.25,91.50 L181.07,90.93 L181.90,90.38 L182.73,89.83 L183.56,89.29 L184.40,88.76 L185.25,88.23 L186.10,87.72 L186.95,87.21 L187.82,86.72 L188.68,86.23 L189.56,85.75 L190.43,85.27 L191.31,84.81 L192.20,84.34 L193.09,83.89 L193.98,83.44 L194.87,83.00 L195.77,82.55 L196.67,82.12 L197.57,81.68 L198.48,81.25 L199.38,80.82 L200.29,80.39 L201.19,79.97 L202.10,79.54 L203.01,79.11 L203.91,78.67 L204.81,78.24 L205.71,77.80 L206.61,77.36 L207.51,76.91 L208.41,76.47 L209.31,76.03 L210.21,75.59 L211.11,75.16 L212.01,74.72 L212.92,74.29 L213.82,73.85 L214.71,73.41 L215.60,72.96 L216.48,72.49 L217.34,72.00 L218.21,71.49 L219.06,70.96 L219.91,70.39 L220.74,69.81 L221.55,69.20 L222.32,68.57 L223.05,67.91 L223.72,67.21 L224.36,66.46 L224.96,65.68 L225.53,64.85 L226.07,63.99 L226.57,63.10 L227.03,62.21 L227.46,61.30 L227.85,60.39 L228.20,59.45 L228.52,58.50 L228.81,57.54 L229.07,56.58 L229.30,55.60 L229.51,54.63 L229.70,53.64 L229.88,52.66 L230.04,51.67 L230.19,50.68 L230.33,49.69 L230.47,48.70 L230.59,47.71 L230.71,46.72 L230.83,45.72 L230.94,44.73 L231.06,43.74 L231.17,42.74 L231.29,41.75 L231.41,40.75 L231.52,39.76 L231.62,38.77 L231.71,37.77 L231.78,36.77 L231.85,35.78 L231.90,34.78 L231.96,33.78 L232.01,32.78 L232.06,31.78 L232.12,30.78 L232.17,29.78 L232.22,28.79 L232.27,27.79 L232.31,26.79 L232.36,25.79 L232.40,24.79 L232.45,23.79 L232.49,22.79 L232.53,21.82 L232.57,20.90 L232.60,20.11 M236.40,28.00 L236.40,366.40 M236.90,380.00 L236.90,379.00 L236.91,378.00 L236.91,377.00 L236.91,376.00 L236.91,375.00 L236.92,374.00 L236.92,373.00 L236.92,372.00 L236.92,371.00 L236.93,370.00 L236.93,369.00 L236.93,368.00 L236.93,367.00 L236.94,366.00 L236.94,365.00 L236.94,364.00 L236.94,363.00 L236.95,362.00 L236.95,361.00 L236.95,360.00 L236.96,359.00 L236.96,358.00 L236.96,357.00 L236.96,356.00 L236.97,355.00 L236.97,354.00 L236.97,353.00 L236.97,352.00 L236.98,351.00 L236.98,350.00 L236.98,349.00 L236.99,348.00 L236.99,347.00 L236.99,346.00 L236.99,345.00 L237.00,344.00 L237.00,343.00 L237.00,342.00 L237.00,341.00 L237.01,340.00 L237.01,339.00 L237.01,338.00 L237.01,337.00 L237.02,336.00 L237.02,335.00 L237.02,334.00 L237.02,333.00 L237.03,332.00 L237.03,331.00 L237.03,330.00 L237.03,329.00 L237.04,328.00 L237.04,327.00 L237.04,326.00 L237.04,325.00 L237.05,324.00 L237.05,323.00 L237.05,322.00 L237.05,321.00 L237.06,320.00 L237.06,319.00 L237.06,318.00 L237.06,317.00 L237.07,316.00 L237.07,315.00 L237.07,314.00 L237.08,313.00 L237.08,312.00 L237.08,311.00 L237.08,310.00 L237.09,309.00 L237.09,308.00 L237.09,307.00 L237.09,306.00 L237.10,305.00 L237.10,304.00 L237.10,303.00 L237.11,302.00 L237.11,301.00 L237.11,300.00 L237.11,299.00 L237.12,298.00 L237.12,297.00 L237.12,296.00 L237.13,295.00 L237.13,294.00 L237.13,293.00 L237.14,292.00 L237.14,291.00 L237.14,290.00 L237.14,289.00 L237.15,288.00 L237.15,287.00 L237.15,286.00 L237.16,285.00 L237.16,284.00 L237.16,283.00 L237.17,282.00 L237.17,281.00 L237.17,280.00 L237.18,279.00 L237.18,278.00 L237.19,277.00 L237.19,276.00 L237.19,275.00 L237.20,274.00 L237.20,273.00 L237.20,272.00 L237.21,271.00 L237.21,270.00 L237.22,269.00 L237.22,268.00 L237.22,267.00 L237.23,266.00 L237.23,265.00 L237.24,264.00 L237.24,263.00 L237.24,262.00 L237.25,261.00 L237.25,260.00 L237.26,259.00 L237.26,258.00 L237.27,257.00 L237.27,256.00 L237.28,255.00 L237.28,254.00 L237.29,253.00 L237.29,252.00 L237.30,251.00 L237.30,250.00 L237.30,249.00 L237.31,248.00 L237.31,247.00 L237.32,246.00 L237.33,245.00 L237.33,244.00 L237.34,243.00 L237.34,242.00 L237.35,241.00 L237.35,240.00 L237.36,239.00 L237.36,238.00 L237.37,237.00 L237.37,236.00 L237.38,235.00 L237.39,234.00 L237.39,233.00 L237.40,232.00 L237.40,231.00 L237.41,230.00 L237.42,229.00 L237.42,228.00 L237.43,227.00 L237.44,226.00 L237.44,225.00 L237.45,224.00 L237.46,223.00 L237.46,222.00 L237.47,221.00 L237.48,220.00 L237.49,219.00 L237.49,218.00 L237.50,217.00 L237.51,216.00 L237.52,215.00 L237.53,213.99 L237.53,212.99 L237.54,211.99 L237.55,210.99 L237.56,209.99 L237.57,208.99 L237.58,207.99 L237.59,206.99 L237.60,205.99 L237.61,204.99 L237.62,203.99 L237.63,202.99 L237.64,201.99 L237.65,200.99 L237.66,199.99 L237.67,198.99 L237.68,197.99 L237.69,196.99 L237.71,195.99 L237.72,194.99 L237.73,193.99 L237.74,192.99 L237.76,191.99 L237.77,190.99 L237.78,189.99 L237.79,188.99 L237.81,187.99 L237.82,187.00 L237.84,186.00 L237.85,185.00 L237.87,184.00 L237.88,183.00 L237.90,182.00 L237.91,181.00 L237.93,180.00 L237.94,179.00 L237.96,178.00 L237.98,177.00 L237.99,176.00 L238.01,175.00 L238.03,174.00 L238.04,173.00 L238.06,172.00 L238.08,171.00 L238.10,170.00 L238.12,169.01 L238.15,168.01 L238.17,167.01 L238.20,166.01 L238.24,165.01 L238.27,164.01 L238.31,163.01 L238.35,162.01 L238.40,161.01 L238.44,160.01 L238.49,159.01 L238.54,158.01 L238.60,157.01 L238.65,156.01 L238.71,155.02 L238.77,154.02 L238.83,153.02 L238.89,152.02 L238.96,151.02 L239.02,150.02 L239.09,149.02 L239.16,148.03 L239.23,147.03 L239.30,146.03 L239.37,145.03 L239.44,144.04 L239.51,143.04 L239.59,142.04 L239.66,141.05 L239.74,140.05 L239.82,139.05 L239.91,138.06 L240.01,137.06 L240.11,136.07 L240.21,135.08 L240.32,134.08 L240.43,133.09 L240.55,132.09 L240.67,131.10 L240.79,130.11 L240.90,129.11 L241.02,128.12 L241.14,127.13 L241.26,126.13 L241.37,125.14 L241.48,124.14 L241.59,123.15 L241.69,122.15 L241.79,121.16 L241.89,120.16 L241.99,119.17 L242.09,118.17 L242.20,117.18 L242.31,116.18 L242.42,115.19 L242.55,114.20 L242.68,113.21 L242.82,112.22 L242.98,111.24 L243.15,110.25 L243.33,109.27 L243.52,108.29 L243.72,107.30 L243.92,106.32 L244.12,105.34 L244.32,104.36 L244.52,103.37 L244.72,102.38 L244.94,101.41 L245.22,100.47 L245.57,99.57 L246.02,98.69 L246.56,97.85 L247.16,97.02 L247.82,96.23 L248.50,95.47 L249.19,94.74 L249.89,94.04 L250.62,93.35 L251.38,92.68 L252.17,92.03 L252.99,91.42 L253.83,90.86 L254.69,90.36 L255.56,89.91 L256.46,89.53 L257.39,89.18 L258.35,88.88 L259.32,88.60 L260.30,88.35 L261.27,88.13 L262.25,87.91 L263.23,87.70 L264.21,87.50 L265.19,87.31 L266.18,87.13 L267.17,86.97 L268.16,86.82 L269.16,86.70 L270.15,86.59 L271.15,86.50 L272.14,86.43 L273.14,86.37 L274.13,86.32 L275.13,86.27 L276.13,86.22 L277.13,86.18 L278.13,86.15 L279.13,86.12 L280.13,86.11 L281.13,86.10 L282.13,86.10 L283.13,86.11 L284.13,86.13 L285.13,86.16 L286.13,86.21 L287.13,86.26 L288.13,86.32 L289.13,86.38 L290.13,86.46 L291.12,86.53 L292.12,86.61 L293.11,86.70 L294.11,86.79 L295.10,86.89 L296.09,87.01 L297.08,87.13 L298.07,87.26 L299.06,87.41 L300.04,87.56 L301.02,87.73 L302.00,87.91 L302.98,88.10 L303.96,88.30 L304.93,88.52 L305.91,88.74 L306.88,88.98 L307.84,89.23 L308.81,89.48 L309.77,89.75 L310.73,90.02 L311.69,90.30 L312.64,90.59 L313.59,90.89 L314.53,91.19 L315.47,91.50 L316.41,91.82 L317.35,92.15 L318.28,92.49 L319.20,92.83 L320.13,93.18 L321.05,93.54 L321.96,93.90 L322.88,94.27 L323.80,94.65 L324.71,95.04 L325.62,95.43 L326.54,95.83 L327.45,96.24 L328.37,96.66 L329.28,97.08 L330.20,97.51 L331.12,97.95 L332.04,98.39 L332.96,98.84 L333.88,99.30 L334.80,99.76 L335.72,100.23 L336.64,100.70 L337.55,101.18 L338.45,101.66 L339.35,102.13 L340.24,102.62 L341.12,103.10 L342.00,103.58 L342.86,104.06 L343.72,104.54 L344.57,105.02 L345.41,105.50 L346.25,105.98 L347.08,106.46 L347.91,106.95 L348.74,107.43 L349.58,107.93 L350.41,108.43 L351.26,108.93 L352.10,109.44 L352.95,109.96 L353.81,110.48 L354.67,111.00 L355.52,111.53 L356.38,112.06 L357.23,112.59 L358.08,113.12 L358.92,113.64 L359.75,114.17 L360.58,114.69 L361.39,115.21 L362.21,115.73 L363.02,116.24 L363.83,116.76 L364.64,117.28 L365.46,117.81 L366.28,118.34 L367.10,118.87 L367.93,119.41 L368.78,119.95 L369.62,120.50 L370.47,121.05 L371.33,121.61 L372.18,122.16 L373.03,122.72 L373.87,123.26 L374.71,123.81 L375.54,124.35 L376.36,124.88 L377.17,125.41 L377.98,125.93 L378.78,126.44 L379.57,126.95 L380.37,127.47 L381.16,127.98 L381.97,128.49 L382.78,129.01 L383.60,129.53 L384.43,130.06 L385.28,130.60 L386.13,131.13 L386.99,131.67 L387.86,132.22 L388.73,132.76 L389.61,133.30 L390.49,133.84 L391.36,134.37 L392.23,134.90 L393.09,135.42 L393.95,135.94 L394.80,136.44 L395.65,136.94 L396.49,137.44 L397.33,137.93 L398.17,138.41 L399.01,138.89 L399.85,139.37 L400.70,139.84 L401.56,140.32 L402.42,140.79 L403.28,141.26 L404.16,141.73 L405.05,142.20 L405.94,142.67 L406.85,143.14 L407.76,143.61 L408.67,144.07 L409.60,144.53 L410.52,144.99 L411.45,145.44 L412.38,145.88 L413.31,146.32 L414.24,146.75 L415.16,147.18 L416.09,147.60 L417.01,148.01 L417.93,148.42 L418.85,148.82 L419.76,149.21 L420.67,149.59 L421.58,149.97 L422.49,150.34 L423.39,150.71 L424.29,151.07 L425.20,151.43 L426.10,151.78 L427.00,152.12 L427.91,152.46 L428.82,152.80 L429.73,153.13 L430.64,153.46 L431.56,153.79 L432.48,154.11 L433.40,154.43 L434.33,154.74 L435.27,155.05 L436.21,155.36 L437.15,155.66 L438.10,155.96 L439.05,156.26 L440.01,156.55 L440.97,156.84 L441.94,157.12 L442.90,157.40 L443.87,157.68 L444.85,157.95 L445.82,158.21 L446.80,158.47 L447.77,158.73 L448.75,158.98 L449.73,159.23 L450.72,159.47 L451.70,159.71 L452.68,159.94 L453.67,160.17 L454.65,160.40 L455.64,160.62 L456.63,160.83 L457.61,161.05 L458.60,161.25 L459.59,161.46 L460.58,161.66 L461.57,161.85 L462.55,162.04 L463.54,162.23 L464.53,162.41 L465.52,162.59 L466.51,162.77 L467.49,162.94 L468.48,163.11 L469.46,163.27 L470.45,163.43 L471.43,163.59 L472.41,163.74 L473.39,163.89 L474.37,164.04 L475.35,164.18 L476.33,164.32 L477.31,164.46 L478.29,164.60 L479.27,164.73 L480.25,164.86 L481.23,164.99 L482.22,165.11 L483.20,165.24 L484.18,165.36 L485.17,165.47 L486.15,165.59 L487.14,165.70 L488.13,165.82 L489.12,165.93 L490.11,166.04 L491.10,166.14 L492.09,166.25 L493.09,166.35 L494.08,166.45 L495.08,166.55 L496.08,166.64 L497.07,166.74 L498.07,166.83 L499.07,166.92 L500.06,167.01 L501.06,167.10 L502.06,167.18 L503.06,167.26 L504.06,167.34 L505.05,167.42 L506.05,167.50 L507.05,167.57 L508.05,167.65 L509.05,167.72 L510.05,167.79 L511.04,167.85 L512.04,167.92 L513.04,167.98 L514.04,168.04 L515.04,168.10 L516.04,168.16 L517.04,168.21 L518.04,168.27 L519.04,168.32 L520.03,168.37 L521.03,168.41 L522.03,168.46 L523.03,168.50 L524.03,168.55 L525.03,168.59 L526.03,168.62 L527.03,168.66 L528.03,168.70 L529.03,168.73 L530.03,168.76 L531.03,168.79 L532.03,168.81 L533.03,168.84 L534.03,168.86 L535.03,168.89 L536.03,168.91 L537.03,168.93 L538.03,168.94 L539.03,168.96 L540.03,168.97 L541.03,168.99 L542.03,169.00 L543.03,169.01 L544.03,169.02 L545.03,169.03 L546.03,169.04 L547.03,169.05 L548.03,169.05 L549.03,169.06 L550.03,169.06 L551.03,169.07 L552.03,169.07 L553.03,169.08 L554.03,169.08 L555.03,169.08 L556.03,169.08 L557.03,169.08 L558.03,169.08 L559.03,169.08 L560.03,169.09 L561.03,169.09 L562.03,169.09 L563.03,169.09 L564.03,169.09 L565.03,169.09 L566.03,169.09 L567.03,169.09 L568.03,169.09 L569.03,169.09 L570.02,169.10 L571.02,169.10 L572.02,169.10 L573.02,169.11 L574.02,169.11 L575.02,169.12 L576.02,169.12 L577.02,169.13 L578.02,169.13 L579.02,169.14 L580.02,169.15 L581.02,169.15 L582.02,169.16 L583.02,169.17 L584.02,169.17 L585.02,169.18 L586.02,169.19 L587.02,169.20 L588.02,169.20 L589.02,169.21 L590.02,169.22 L591.02,169.22 L592.02,169.23 L593.02,169.23 L594.02,169.24 L595.02,169.24 L596.02,169.24 L597.02,169.25 L598.02,169.25 L599.02,169.25 L600.02,169.25 L601.02,169.25 L602.02,169.25 L603.02,169.25 L604.02,169.25 L605.02,169.24 L606.02,169.24 L607.01,169.23 L608.01,169.22 L609.00,169.22 L610.00,169.21 L610.99,169.19 L611.97,169.18 L612.96,169.17 L613.94,169.15 L614.92,169.14 L615.89,169.12" stroke="#4bff00"/>
<path d="M69.97,310.22 L70.31,309.28 L70.65,308.34 L70.98,307.40 L71.32,306.46 L71.65,305.51 L71.99,304.57 L72.33,303.63 L72.66,302.69 L73.00,301.75 L73.33,300.81 L73.67,299.87 L74.01,298.92 L74.34,297.98 L74.68,297.04 L75.02,296.10 L75.36,295.16 L75.69,294.22 L76.03,293.28 L76.37,292.33 L76.71,291.39 L77.05,290.45 L77.39,289.51 L77.73,288.57 L78.07,287.63 L78.42,286.69 L78.76,285.75 L79.10,284.81 L79.45,283.87 L79.79,282.94 L80.14,282.00 L80.49,281.06 L80.83,280.12 L81.18,279.18 L81.53,278.25 L81.88,277.31 L82.24,276.37 L82.59,275.44 L82.94,274.50 L83.30,273.57 L83.65,272.63 L84.01,271.69 L84.36,270.76 L84.72,269.83 L85.08,268.89 L85.44,267.96 L85.79,267.02 L86.15,266.09 L86.51,265.16 L86.88,264.23 L87.24,263.29 L87.60,262.36 L87.96,261.43 L88.33,260.50 L88.69,259.57 L89.05,258.64 L89.42,257.71 L89.79,256.78 L90.15,255.85 L90.52,254.92 L90.89,253.99 L91.25,253.06 L91.62,252.13 L91.99,251.20 L92.36,250.27 L92.73,249.34 L93.10,248.42 L93.47,247.49 L93.84,246.56 L94.21,245.64 L94.58,244.71 L94.96,243.78 L95.33,242.86 L95.70,241.93 L96.08,241.01 L96.45,240.08 L96.82,239.16 L97.20,238.23 L97.58,237.31 L97.95,236.39 L98.33,235.46 L98.71,234.54 L99.09,233.62 L99.47,232.70 L99.85,231.77 L100.24,230.85 L100.62,229.93 L101.00,229.01 L101.39,228.09 L101.78,227.17 L102.16,226.25 L102.55,225.34 L102.94,224.42 L103.34,223.50 L103.73,222.58 L104.12,221.67 L104.52,220.75 L104.91,219.83 L105.31,218.92 L105.71,218.00 L106.11,217.09 L106.51,216.18 L106.91,215.26 L107.32,214.35 L107.73,213.44 L108.13,212.53 L108.54,211.62 L108.95,210.71 L109.36,209.80 L109.78,208.89 L110.19,207.98 L110.61,207.07 L111.03,206.16 L111.44,205.26 L111.86,204.35 L112.29,203.44 L112.71,202.54 L113.13,201.63 L113.56,200.73 L113.98,199.82 L114.41,198.92 L114.84,198.02 L115.27,197.11 L115.70,196.21 L116.13,195.31 L116.56,194.41 L117.00,193.51 L117.43,192.61 L117.87,191.71 L118.30,190.81 L118.74,189.91 L119.18,189.01 L119.62,188.11 L120.06,187.22 L120.50,186.32 L120.94,185.42 L121.39,184.53 L121.83,183.63 L122.28,182.74 L122.72,181.84 L123.17,180.95 L123.62,180.06 L124.07,179.16 L124.52,178.27 L124.97,177.38 L125.42,176.49 L125.87,175.60 L126.32,174.71 L126.77,173.82 L127.23,172.93 L127.69,172.04 L128.14,171.15 L128.60,170.26 L129.06,169.37 L129.52,168.49 L129.98,167.60 L130.44,166.72 L130.91,165.83 L131.37,164.95 L131.84,164.06 L132.30,163.18 L132.77,162.30 L133.24,161.42 L133.71,160.53 L134.18,159.65 L134.65,158.77 L135.13,157.89 L135.60,157.02 L136.08,156.14 L136.56,155.26 L137.04,154.38 L137.52,153.51 L138.00,152.63 L138.48,151.76 L138.97,150.88 L139.45,150.01 L139.94,149.14 L140.43,148.26 L140.92,147.39 L141.41,146.52 L141.90,145.65 L142.40,144.78 L142.90,143.92 L143.40,143.05 L143.90,142.19 L144.40,141.32 L144.91,140.46 L145.42,139.60 L145.93,138.74 L146.44,137.88 L146.95,137.02 L147.47,136.17 L147.99,135.31 L148.51,134.46 L149.04,133.61 L149.56,132.76 L150.09,131.91 L150.63,131.07 L151.16,130.23 L151.70,129.38 L152.24,128.54 L152.79,127.71 L153.34,126.87 L153.89,126.04 L154.44,125.21 L155.00,124.38 L155.56,123.55 L156.13,122.73 L156.70,121.91 L157.27,121.09 L157.85,120.27 L158.43,119.46 L159.01,118.65 L159.60,117.84 L160.19,117.03 L160.78,116.23 L161.38,115.43 L161.98,114.63 L162.59,113.83 L163.20,113.04 L163.81,112.25 L164.43,111.46 L165.05,110.68 L165.67,109.90 L166.30,109.12 L166.93,108.34 L167.56,107.57 L168.20,106.80 L168.84,106.03 L169.48,105.27 L170.13,104.51 L170.78,103.75 L171.43,102.99 L172.09,102.24 L172.75,101.49 L173.42,100.74 L174.08,100.00 L174.75,99.26 L175.43,98.52 L176.11,97.79 L176.79,97.06 L177.47,96.33 L178.16,95.61 L178.85,94.88 L179.54,94.17 L180.24,93.45 L180.94,92.74 L181.64,92.03 L182.34,91.32 L183.05,90.62 L183.77,89.92 L184.48,89.23 L185.20,88.54 L185.92,87.85 L186.65,87.17 L187.38,86.49 L188.11,85.82 L188.85,85.15 L189.59,84.48 L190.34,83.82 L191.09,83.17 L191.84,82.52 L192.60,81.87 L193.36,81.23 L194.13,80.59 L194.90,79.96 L195.68,79.34 L196.46,78.72 L197.24,78.10 L198.03,77.50 L198.83,76.89 L199.63,76.30 L200.43,75.71 L201.24,75.13 L202.06,74.55 L202.89,73.99 L203.72,73.43 L204.56,72.87 L205.40,72.32 L206.24,71.78 L207.08,71.24 L207.94,70.70 L208.79,70.18 L209.66,69.66 L210.52,69.15 L211.39,68.65 L212.26,68.14 L213.12,67.63 L213.97,67.12 L214.81,66.59 L215.63,66.03 L216.44,65.46 L217.24,64.86 L218.02,64.24 L218.78,63.59 L219.54,62.92 L220.27,62.23 L221.00,61.53 L221.70,60.82 L222.39,60.10 L223.07,59.37 L223.74,58.63 L224.40,57.86 L225.04,57.08 L225.64,56.28 L226.21,55.47 L226.74,54.62 L227.22,53.75 L227.66,52.85 L228.03,51.93 L228.36,51.00 L228.65,50.05 L228.92,49.09 L229.17,48.12 L229.40,47.14 L229.62,46.16 L229.83,45.18 L230.04,44.19 L230.25,43.21 L230.46,42.23 L230.66,41.25 L230.87,40.27 L231.07,39.29 L231.27,38.31 L231.46,37.33 L231.65,36.35 L231.82,35.36 L231.99,34.37 L232.14,33.39 L232.28,32.40 L232.41,31.41 L232.54,30.42 L232.66,29.43 L232.77,28.44 L232.88,27.44 L232.99,26.45 L233.09,25.45 L233.18,24.46 L233.26,23.46 L233.34,22.46 L233.41,21.47 L233.47,20.50 M239.50,28.00 L239.50,366.40 M240.40,380.00 L240.41,379.00 L240.41,378.00 L240.42,377.00 L240.42,376.00 L240.43,375.00 L240.43,374.00 L240.44,373.00 L240.44,372.00 L240.45,371.00 L240.45,370.00 L240.46,369.00 L240.46,368.00 L240.47,367.00 L240.47,366.00 L240.48,365.00 L240.48,364.00 L240.49,363.00 L240.49,362.00 L240.50,361.00 L240.50,360.00 L240.51,359.00 L240.51,358.00 L240.52,357.00 L240.52,356.00 L240.53,355.00 L240.53,354.00 L240.54,353.00 L240.54,352.00 L240.55,351.00 L240.55,350.00 L240.56,349.00 L240.56,348.00 L240.56,347.00 L240.57,346.00 L240.57,345.00 L240.58,344.00 L240.58,343.00 L240.59,342.00 L240.59,341.00 L240.59,340.00 L240.60,339.00 L240.60,338.00 L240.61,337.00 L240.61,336.00 L240.61,335.00 L240.62,334.00 L240.62,333.00 L240.62,332.00 L240.63,331.00 L240.63,330.00 L240.64,329.00 L240.64,328.00 L240.64,327.00 L240.65,326.00 L240.65,325.00 L240.66,324.00 L240.66,323.00 L240.66,322.00 L240.67,321.00 L240.67,320.00 L240.67,319.00 L240.68,318.00 L240.68,317.00 L240.69,316.00 L240.69,315.00 L240.69,314.00 L240.70,313.00 L240.70,312.00 L240.70,311.00 L240.71,310.00 L240.71,309.00 L240.72,308.00 L240.72,307.00 L240.72,306.00 L240.73,305.00 L240.73,304.00 L240.73,303.00 L240.74,302.00 L240.74,301.00 L240.75,300.00 L240.75,299.00 L240.75,298.00 L240.76,297.00 L240.76,296.00 L240.77,295.00 L240.77,294.00 L240.77,293.00 L240.78,292.00 L240.78,291.00 L240.79,290.00 L240.79,289.00 L240.80,288.00 L240.80,287.00 L240.80,286.00 L240.81,285.00 L240.81,284.00 L240.82,283.00 L240.82,282.00 L240.83,281.00 L240.83,280.00 L240.84,279.00 L240.84,278.00 L240.85,277.00 L240.85,276.00 L240.86,275.00 L240.86,274.00 L240.87,273.00 L240.87,272.00 L240.88,271.00 L240.88,270.00 L240.89,269.00 L240.89,268.00 L240.90,267.00 L240.90,266.00 L240.91,265.00 L240.91,264.00 L240.92,263.00 L240.92,262.00 L240.93,261.00 L240.94,260.00 L240.94,259.00 L240.95,258.00 L240.95,257.00 L240.96,256.00 L240.97,255.00 L240.97,254.00 L240.98,253.00 L240.99,252.00 L240.99,251.00 L241.00,250.00 L241.01,249.00 L241.01,248.00 L241.02,247.00 L241.03,246.00 L241.04,245.00 L241.04,244.00 L241.05,243.00 L241.06,242.00 L241.07,241.00 L241.07,240.00 L241.08,239.00 L241.09,238.00 L241.10,237.00 L241.11,236.00 L241.12,235.00 L241.12,234.00 L241.13,233.00 L241.14,232.00 L241.15,231.00 L241.16,230.00 L241.17,229.00 L241.18,228.00 L241.19,227.00 L241.20,226.00 L241.21,225.00 L241.22,224.00 L241.23,223.00 L241.24,222.00 L241.25,221.00 L241.26,220.00 L241.27,219.00 L241.28,218.00 L241.29,217.00 L241.30,216.00 L241.31,215.00 L241.33,214.00 L241.34,213.00 L241.35,212.00 L241.36,211.00 L241.37,210.00 L241.39,209.00 L241.40,208.00 L241.41,207.00 L241.42,206.00 L241.44,205.00 L241.45,204.00 L241.46,203.00 L241.47,202.00 L241.49,201.00 L241.50,200.00 L241.51,199.00 L241.53,198.00 L241.54,197.00 L241.56,196.00 L241.57,195.00 L241.59,194.00 L241.60,193.00 L241.61,192.00 L241.63,191.00 L241.64,190.00 L241.66,189.00 L241.68,188.00 L241.69,187.00 L241.71,186.00 L241.72,185.00 L241.74,184.00 L241.75,183.00 L241.77,182.00 L241.79,181.00 L241.80,180.00 L241.82,179.01 L241.84,178.01 L241.86,177.01 L241.87,176.01 L241.89,175.01 L241.91,174.01 L241.93,173.01 L241.94,172.01 L241.96,171.01 L241.98,170.01 L242.00,169.01 L242.02,168.01 L242.04,167.01 L242.06,166.01 L242.08,165.01 L242.10,164.01 L242.13,163.01 L242.15,162.01 L242.17,161.01 L242.20,160.01 L242.23,159.01 L242.25,158.01 L242.28,157.01 L242.31,156.01 L242.34,155.01 L242.37,154.01 L242.40,153.01 L242.44,152.01 L242.47,151.01 L242.51,150.01 L242.54,149.01 L242.58,148.01 L242.62,147.02 L242.66,146.02 L242.70,145.02 L242.75,144.02 L242.80,143.02 L242.85,142.02 L242.91,141.02 L242.98,140.03 L243.04,139.03 L243.11,138.03 L243.18,137.03 L243.25,136.04 L243.32,135.04 L243.39,134.04 L243.46,133.04 L243.53,132.04 L243.59,131.05 L243.66,130.05 L243.72,129.05 L243.79,128.05 L243.86,127.05 L243.93,126.06 L244.01,125.06 L244.10,124.06 L244.19,123.07 L244.29,122.07 L244.40,121.08 L244.51,120.09 L244.63,119.09 L244.76,118.10 L244.89,117.11 L245.03,116.12 L245.18,115.13 L245.32,114.14 L245.48,113.15 L245.64,112.16 L245.81,111.18 L245.99,110.19 L246.17,109.20 L246.37,108.21 L246.58,107.23 L246.81,106.26 L247.06,105.30 L247.33,104.34 L247.63,103.40 L247.98,102.46 L248.36,101.54 L248.77,100.62 L249.20,99.72 L249.65,98.82 L250.10,97.93 L250.57,97.04 L251.06,96.17 L251.56,95.30 L252.08,94.44 L252.61,93.60 L253.16,92.76 L253.72,91.93 L254.30,91.10 L254.90,90.29 L255.53,89.51 L256.19,88.78 L256.89,88.08 L257.63,87.42 L258.41,86.80 L259.23,86.21 L260.07,85.66 L260.94,85.15 L261.82,84.68 L262.73,84.27 L263.66,83.91 L264.61,83.60 L265.56,83.31 L266.53,83.04 L267.50,82.79 L268.48,82.56 L269.47,82.37 L270.45,82.19 L271.44,82.04 L272.42,81.90 L273.41,81.77 L274.41,81.65 L275.40,81.54 L276.40,81.44 L277.39,81.35 L278.39,81.28 L279.39,81.22 L280.39,81.18 L281.39,81.15 L282.38,81.14 L283.38,81.14 L284.38,81.15 L285.38,81.17 L286.38,81.20 L287.38,81.23 L288.38,81.28 L289.38,81.33 L290.38,81.38 L291.38,81.44 L292.38,81.51 L293.37,81.58 L294.37,81.66 L295.36,81.76 L296.35,81.86 L297.34,81.98 L298.33,82.10 L299.31,82.24 L300.30,82.40 L301.28,82.56 L302.26,82.74 L303.24,82.93 L304.21,83.13 L305.19,83.34 L306.16,83.56 L307.13,83.78 L308.09,84.02 L309.06,84.26 L310.03,84.50 L310.99,84.76 L311.95,85.01 L312.91,85.27 L313.87,85.54 L314.83,85.82 L315.79,86.10 L316.74,86.39 L317.70,86.69 L318.65,86.99 L319.60,87.30 L320.55,87.61 L321.50,87.93 L322.45,88.25 L323.40,88.57 L324.35,88.90 L325.30,89.24 L326.24,89.57 L327.19,89.92 L328.13,90.26 L329.08,90.61 L330.02,90.96 L330.96,91.31 L331.90,91.67 L332.84,92.03 L333.78,92.39 L334.71,92.75 L335.65,93.11 L336.58,93.48 L337.52,93.85 L338.45,94.22 L339.38,94.59 L340.30,94.96 L341.23,95.33 L342.16,95.70 L343.08,96.08 L344.01,96.45 L344.94,96.83 L345.87,97.20 L346.80,97.58 L347.73,97.96 L348.66,98.34 L349.60,98.72 L350.53,99.10 L351.47,99.48 L352.41,99.86 L353.35,100.24 L354.29,100.62 L355.23,100.99 L356.17,101.37 L357.11,101.74 L358.05,102.12 L358.98,102.49 L359.92,102.85 L360.85,103.22 L361.77,103.58 L362.70,103.93 L363.62,104.28 L364.53,104.63 L365.45,104.98 L366.36,105.32 L367.27,105.66 L368.18,106.00 L369.09,106.33 L370.00,106.66 L370.91,106.99 L371.83,107.32 L372.75,107.65 L373.67,107.98 L374.60,108.30 L375.54,108.62 L376.47,108.95 L377.42,109.27 L378.37,109.59 L379.32,109.91 L380.27,110.22 L381.23,110.54 L382.20,110.85 L383.16,111.16 L384.13,111.47 L385.10,111.77 L386.07,112.07 L387.04,112.37 L388.02,112.67 L388.99,112.96 L389.97,113.25 L390.94,113.53 L391.91,113.81 L392.88,114.09 L393.85,114.36 L394.81,114.63 L395.78,114.89 L396.74,115.15 L397.70,115.41 L398.66,115.66 L399.61,115.90 L400.57,116.14 L401.52,116.38 L402.48,116.62 L403.43,116.85 L404.39,117.08 L405.35,117.30 L406.31,117.52 L407.27,117.74 L408.24,117.95 L409.21,118.16 L410.18,118.37 L411.16,118.57 L412.14,118.77 L413.12,118.97 L414.10,119.17 L415.09,119.36 L416.08,119.54 L417.06,119.73 L418.05,119.91 L419.04,120.08 L420.03,120.26 L421.01,120.43 L422.00,120.59 L422.99,120.75 L423.98,120.91 L424.96,121.07 L425.95,121.22 L426.94,121.37 L427.93,121.51 L428.92,121.65 L429.90,121.79 L430.89,121.93 L431.89,122.06 L432.88,122.19 L433.87,122.31 L434.86,122.44 L435.85,122.56 L436.85,122.67 L437.84,122.79 L438.84,122.90 L439.83,123.01 L440.82,123.11 L441.82,123.22 L442.81,123.32 L443.81,123.41 L444.81,123.51 L445.80,123.60 L446.80,123.69 L447.79,123.77 L448.79,123.86 L449.78,123.94 L450.78,124.02 L451.78,124.09 L452.77,124.17 L453.77,124.24 L454.77,124.31 L455.76,124.37 L456.76,124.44 L457.76,124.50 L458.76,124.56 L459.75,124.62 L460.75,124.68 L461.75,124.73 L462.75,124.78 L463.75,124.83 L464.75,124.88 L465.75,124.93 L466.74,124.97 L467.74,125.02 L468.74,125.06 L469.74,125.10 L470.74,125.14 L471.74,125.17 L472.74,125.21 L473.74,125.24 L474.74,125.27 L475.74,125.31 L476.74,125.34 L477.74,125.36 L478.74,125.39 L479.74,125.42 L480.74,125.44 L481.74,125.47 L482.74,125.49 L483.74,125.51 L484.74,125.53 L485.74,125.55 L486.74,125.57 L487.74,125.59 L488.74,125.60 L489.74,125.62 L490.74,125.64 L491.74,125.65 L492.74,125.67 L493.74,125.68 L494.74,125.69 L495.74,125.71 L496.74,125.72 L497.74,125.73 L498.74,125.74 L499.74,125.75 L500.74,125.76 L501.74,125.77 L502.74,125.78 L503.74,125.78 L504.74,125.79 L505.74,125.80 L506.74,125.80 L507.74,125.81 L508.74,125.82 L509.74,125.82 L510.74,125.83 L511.74,125.83 L512.74,125.84 L513.74,125.84 L514.74,125.84 L515.74,125.85 L516.74,125.85 L517.74,125.85 L518.74,125.85 L519.74,125.86 L520.74,125.86 L521.74,125.86 L522.74,125.86 L523.74,125.86 L524.74,125.87 L525.74,125.87 L526.74,125.87 L527.74,125.87 L528.74,125.87 L529.74,125.87 L530.74,125.87 L531.74,125.87 L532.74,125.88 L533.74,125.88 L534.74,125.88 L535.74,125.88 L536.74,125.88 L537.74,125.88 L538.74,125.88 L539.74,125.88 L540.74,125.89 L541.74,125.89 L542.74,125.89 L543.74,125.89 L544.74,125.89 L545.74,125.89 L546.74,125.89 L547.74,125.89 L548.74,125.89 L549.74,125.89 L550.74,125.89 L551.74,125.90 L552.74,125.90 L553.74,125.90 L554.74,125.90 L555.74,125.90 L556.74,125.90 L557.74,125.90 L558.74,125.90 L559.74,125.90 L560.74,125.90 L561.74,125.90 L562.74,125.90 L563.74,125.90 L564.74,125.90 L565.74,125.90 L566.74,125.90 L567.74,125.90 L568.74,125.90 L569.74,125.90 L570.74,125.90 L571.74,125.90 L572.74,125.90 L573.74,125.90 L574.74,125.90 L575.74,125.90 L576.74,125.90 L577.74,125.90 L578.74,125.90 L579.74,125.90 L580.74,125.90 L581.74,125.90 L582.74,125.90 L583.74,125.90 L584.74,125.90 L585.74,125.90 L586.74,125.90 L587.74,125.90 L588.74,125.90 L589.74,125.90 L590.74,125.90 L591.74,125.90 L592.74,125.90 L593.74,125.90 L594.74,125.90 L595.74,125.90 L596.74,125.90 L597.74,125.90 L598.73,125.90 L599.73,125.90 L600.73,125.90 L601.73,125.90 L602.72,125.90 L603.71,125.90 L604.70,125.90 L605.68,125.90 L606.65,125.90 L607.62,125.90 L608.57,125.90 L609.50,125.90 L610.42,125.90 L611.31,125.90 L612.18,125.90 L613.02,125.90 L613.83,125.90 L614.60,125.90" stroke="#00ff8e"/>
<path d="M70.10,400.35 L70.31,399.38 L70.52,398.40 L70.74,397.42 L70.96,396.45 L71.19,395.47 L71.42,394.50 L71.65,393.53 L71.89,392.56 L72.13,391.59 L72.37,390.62 L72.61,389.65 L72.86,388.68 L73.11,387.71 L73.36,386.74 L73.62,385.77 L73.87,384.81 L74.13,383.84 L74.39,382.88 L74.65,381.91 L74.91,380.94 L75.17,379.98 L75.44,379.01 L75.70,378.05 L75.96,377.08 L76.22,376.12 L76.49,375.15 L76.75,374.19 L77.01,373.22 L77.27,372.25 L77.53,371.29 L77.79,370.32 L78.04,369.36 L78.30,368.39 L78.55,367.42 L78.81,366.45 L79.06,365.49 L79.31,364.52 L79.56,363.55 L79.81,362.58 L80.06,361.61 L80.31,360.65 L80.56,359.68 L80.81,358.71 L81.06,357.74 L81.30,356.77 L81.55,355.80 L81.80,354.83 L82.04,353.87 L82.29,352.90 L82.54,351.93 L82.78,350.96 L83.03,349.99 L83.28,349.02 L83.53,348.05 L83.78,347.09 L84.02,346.12 L84.27,345.15 L84.52,344.18 L84.77,343.22 L85.03,342.25 L85.28,341.28 L85.53,340.31 L85.79,339.35 L86.04,338.38 L86.30,337.42 L86.55,336.45 L86.81,335.49 L87.07,334.52 L87.33,333.56 L87.60,332.59 L87.86,331.63 L88.13,330.66 L88.39,329.70 L88.66,328.74 L88.93,327.78 L89.20,326.81 L89.47,325.85 L89.74,324.89 L90.01,323.93 L90.29,322.97 L90.56,322.01 L90.84,321.05 L91.12,320.09 L91.40,319.13 L91.68,318.17 L91.96,317.21 L92.24,316.25 L92.52,315.30 L92.81,314.34 L93.09,313.38 L93.38,312.42 L93.66,311.47 L93.95,310.51 L94.24,309.56 L94.53,308.60 L94.82,307.64 L95.11,306.69 L95.41,305.73 L95.70,304.78 L95.99,303.83 L96.29,302.87 L96.59,301.92 L96.88,300.97 L97.18,300.01 L97.48,299.06 L97.78,298.11 L98.08,297.16 L98.38,296.20 L98.69,295.25 L98.99,294.30 L99.29,293.35 L99.60,292.40 L99.90,291.45 L100.21,290.50 L100.52,289.55 L100.82,288.60 L101.13,287.65 L101.44,286.70 L101.75,285.75 L102.06,284.80 L102.37,283.85 L102.68,282.90 L102.99,281.95 L103.30,281.00 L103.61,280.06 L103.92,279.11 L104.23,278.16 L104.54,277.21 L104.86,276.26 L105.17,275.31 L105.48,274.36 L105.80,273.42 L106.11,272.47 L106.42,271.52 L106.74,270.57 L107.05,269.62 L107.36,268.68 L107.68,267.73 L107.99,266.78 L108.30,265.83 L108.62,264.88 L108.93,263.93 L109.25,262.99 L109.56,262.04 L109.88,261.09 L110.19,260.14 L110.51,259.19 L110.82,258.24 L111.14,257.30 L111.45,256.35 L111.77,255.40 L112.09,254.45 L112.40,253.50 L112.72,252.56 L113.04,251.61 L113.36,250.66 L113.68,249.71 L114.00,248.77 L114.32,247.82 L114.64,246.87 L114.96,245.93 L115.28,244.98 L115.61,244.03 L115.93,243.09 L116.26,242.14 L116.58,241.20 L116.91,240.25 L117.23,239.31 L117.56,238.36 L117.89,237.42 L118.22,236.47 L118.55,235.53 L118.88,234.59 L119.21,233.64 L119.55,232.70 L119.88,231.76 L120.22,230.82 L120.56,229.87 L120.89,228.93 L121.23,227.99 L121.57,227.05 L121.91,226.11 L122.25,225.17 L122.60,224.23 L122.94,223.29 L123.29,222.35 L123.63,221.41 L123.98,220.47 L124.33,219.54 L124.67,218.60 L125.02,217.66 L125.37,216.73 L125.73,215.79 L126.08,214.85 L126.43,213.92 L126.79,212.98 L127.14,212.05 L127.50,211.11 L127.86,210.18 L128.21,209.25 L128.57,208.31 L128.93,207.38 L129.30,206.45 L129.66,205.52 L130.02,204.59 L130.39,203.66 L130.75,202.73 L131.12,201.80 L131.48,200.87 L131.85,199.94 L132.22,199.01 L132.59,198.09 L132.96,197.16 L133.33,196.23 L133.70,195.31 L134.08,194.38 L134.45,193.46 L134.83,192.53 L135.20,191.61 L135.58,190.68 L135.96,189.76 L136.34,188.84 L136.72,187.91 L137.10,186.99 L137.48,186.07 L137.86,185.15 L138.25,184.23 L138.63,183.31 L139.02,182.39 L139.40,181.47 L139.79,180.55 L140.18,179.63 L140.57,178.71 L140.96,177.79 L141.35,176.87 L141.74,175.96 L142.13,175.04 L142.52,174.12 L142.92,173.20 L143.31,172.29 L143.71,171.37 L144.11,170.46 L144.50,169.54 L144.90,168.62 L145.30,167.71 L145.70,166.79 L146.10,165.88 L146.50,164.96 L146.91,164.05 L147.31,163.14 L147.71,162.22 L148.12,161.31 L148.53,160.40 L148.94,159.48 L149.35,158.57 L149.76,157.66 L150.17,156.75 L150.58,155.84 L151.00,154.93 L151.42,154.02 L151.83,153.11 L152.25,152.21 L152.67,151.30 L153.10,150.39 L153.52,149.49 L153.95,148.59 L154.38,147.68 L154.81,146.78 L155.24,145.88 L155.68,144.98 L156.11,144.08 L156.55,143.19 L156.99,142.29 L157.44,141.40 L157.88,140.50 L158.33,139.61 L158.78,138.72 L159.23,137.83 L159.69,136.94 L160.15,136.06 L160.61,135.17 L161.07,134.29 L161.54,133.41 L162.00,132.53 L162.48,131.65 L162.95,130.77 L163.43,129.90 L163.90,129.02 L164.39,128.15 L164.87,127.28 L165.36,126.41 L165.85,125.54 L166.34,124.67 L166.83,123.81 L167.33,122.94 L167.82,122.08 L168.33,121.22 L168.83,120.36 L169.33,119.50 L169.84,118.64 L170.35,117.79 L170.86,116.93 L171.38,116.08 L171.90,115.23 L172.41,114.38 L172.94,113.53 L173.46,112.68 L173.98,111.83 L174.51,110.98 L175.04,110.14 L175.57,109.29 L176.10,108.45 L176.64,107.61 L177.18,106.77 L177.71,105.93 L178.26,105.09 L178.80,104.25 L179.34,103.41 L179.89,102.58 L180.44,101.74 L180.99,100.91 L181.54,100.08 L182.09,99.24 L182.65,98.41 L183.21,97.58 L183.77,96.76 L184.33,95.93 L184.90,95.10 L185.46,94.28 L186.03,93.46 L186.60,92.64 L187.18,91.82 L187.76,91.00 L188.33,90.19 L188.92,89.38 L189.50,88.57 L190.09,87.76 L190.68,86.95 L191.27,86.15 L191.87,85.34 L192.47,84.54 L193.07,83.75 L193.68,82.95 L194.28,82.16 L194.90,81.37 L195.51,80.58 L196.13,79.79 L196.75,79.01 L197.37,78.23 L198.00,77.45 L198.63,76.68 L199.27,75.91 L199.91,75.14 L200.55,74.37 L201.19,73.61 L201.84,72.85 L202.49,72.09 L203.14,71.34 L203.80,70.58 L204.45,69.83 L205.11,69.08 L205.77,68.33 L206.44,67.58 L207.11,66.85 L207.79,66.11 L208.47,65.38 L209.16,64.65 L209.84,63.93 L210.54,63.20 L211.23,62.48 L211.92,61.76 L212.62,61.04 L213.31,60.32 L214.02,59.60 L214.72,58.89 L215.42,58.17 L216.13,57.46 L216.83,56.74 L217.52,56.02 L218.21,55.29 L218.89,54.56 L219.55,53.81 L220.20,53.06 L220.84,52.30 L221.46,51.52 L222.08,50.74 L222.68,49.94 L223.27,49.14 L223.86,48.32 L224.43,47.50 L225.00,46.68 L225.56,45.84 L226.11,45.00 L226.65,44.16 L227.19,43.32 L227.71,42.47 L228.22,41.61 L228.73,40.75 L229.22,39.88 L229.70,39.01 L230.18,38.13 L230.65,37.24 L231.12,36.36 L231.59,35.47 L232.06,34.59 L232.53,33.71 L233.01,32.83 L233.50,31.95 L233.98,31.08 L234.47,30.21 L234.96,29.34 L235.46,28.47 L235.95,27.60 L236.44,26.73 L236.93,25.87 L237.39,25.07 L237.76,24.42 M245.10,28.00 L245.10,366.40 M246.20,380.00 L246.20,379.00 L246.21,378.00 L246.21,377.00 L246.22,376.00 L246.22,375.00 L246.23,374.00 L246.24,373.00 L246.24,372.00 L246.25,371.00 L246.25,370.00 L246.26,369.00 L246.26,368.00 L246.27,367.00 L246.27,366.00 L246.28,365.00 L246.28,364.00 L246.29,363.00 L246.29,362.00 L246.30,361.00 L246.31,360.00 L246.31,359.00 L246.32,358.00 L246.32,357.00 L246.33,356.00 L246.34,355.00 L246.34,354.00 L246.35,353.00 L246.35,352.00 L246.36,351.00 L246.36,350.00 L246.37,349.00 L246.38,348.00 L246.38,347.00 L246.39,346.00 L246.39,345.00 L246.40,344.00 L246.41,343.00 L246.41,342.00 L246.42,341.00 L246.42,340.00 L246.43,339.00 L246.44,338.00 L246.44,337.00 L246.45,336.00 L246.45,335.00 L246.46,334.00 L246.47,333.00 L246.47,332.00 L246.48,331.00 L246.49,330.00 L246.49,329.00 L246.50,328.00 L246.50,327.00 L246.51,326.00 L246.52,325.00 L246.52,324.00 L246.53,323.00 L246.54,322.00 L246.54,321.00 L246.55,320.00 L246.55,319.00 L246.56,318.00 L246.57,317.00 L246.57,316.00 L246.58,315.00 L246.59,314.00 L246.59,313.00 L246.60,312.00 L246.61,311.00 L246.61,310.00 L246.62,309.00 L246.63,308.00 L246.63,307.00 L246.64,306.00 L246.65,305.00 L246.65,304.00 L246.66,303.00 L246.67,302.00 L246.68,301.00 L246.68,300.00 L246.69,299.00 L246.70,298.00 L246.70,297.00 L246.71,296.00 L246.72,295.00 L246.73,294.00 L246.73,293.00 L246.74,292.00 L246.75,291.00 L246.76,290.00 L246.76,289.00 L246.77,288.00 L246.78,287.00 L246.79,286.00 L246.79,285.00 L246.80,284.00 L246.81,283.00 L246.82,282.00 L246.83,281.00 L246.83,280.00 L246.84,279.00 L246.85,278.00 L246.86,277.00 L246.87,276.00 L246.87,275.00 L246.88,274.00 L246.89,273.00 L246.90,272.00 L246.91,271.00 L246.92,270.00 L246.92,269.00 L246.93,268.00 L246.94,267.00 L246.95,266.00 L246.96,265.00 L246.97,264.00 L246.98,263.00 L246.99,262.00 L247.00,261.00 L247.00,260.00 L247.01,259.00 L247.02,258.00 L247.03,257.00 L247.04,256.00 L247.05,255.00 L247.06,254.00 L247.07,253.00 L247.08,252.00 L247.09,251.00 L247.10,250.00 L247.11,249.00 L247.12,248.00 L247.13,247.00 L247.14,246.00 L247.15,245.00 L247.16,244.00 L247.17,243.00 L247.18,242.00 L247.19,241.00 L247.20,240.00 L247.21,239.00 L247.22,238.00 L247.23,237.00 L247.24,236.00 L247.25,235.00 L247.26,234.00 L247.27,233.00 L247.28,232.00 L247.29,231.00 L247.31,230.00 L247.32,229.00 L247.33,228.00 L247.34,227.00 L247.35,226.00 L247.36,225.00 L247.37,224.00 L247.39,223.00 L247.40,222.00 L247.41,221.00 L247.42,220.00 L247.43,219.00 L247.45,218.00 L247.46,217.00 L247.47,216.00 L247.48,215.00 L247.50,214.00 L247.51,213.00 L247.52,212.00 L247.54,211.00 L247.55,210.00 L247.56,209.00 L247.58,208.00 L247.59,207.00 L247.61,206.00 L247.62,205.00 L247.63,204.00 L247.65,203.00 L247.66,202.00 L247.68,201.00 L247.70,200.00 L247.71,199.00 L247.73,198.00 L247.74,197.00 L247.76,196.00 L247.78,195.00 L247.79,194.00 L247.81,193.00 L247.83,192.00 L247.85,191.00 L247.86,190.00 L247.88,189.01 L247.90,188.01 L247.92,187.01 L247.94,186.01 L247.96,185.01 L247.98,184.01 L248.00,183.01 L248.02,182.01 L248.04,181.01 L248.06,180.01 L248.08,179.01 L248.10,178.01 L248.12,177.01 L248.14,176.01 L248.16,175.01 L248.19,174.01 L248.21,173.01 L248.23,172.01 L248.25,171.01 L248.28,170.01 L248.30,169.01 L248.33,168.01 L248.36,167.01 L248.40,166.01 L248.43,165.01 L248.47,164.02 L248.52,163.02 L248.56,162.02 L248.60,161.02 L248.64,160.02 L248.69,159.02 L248.73,158.02 L248.77,157.02 L248.81,156.02 L248.84,155.02 L248.88,154.02 L248.92,153.02 L248.96,152.02 L249.00,151.03 L249.03,150.03 L249.07,149.03 L249.12,148.03 L249.16,147.03 L249.20,146.03 L249.25,145.03 L249.30,144.03 L249.35,143.03 L249.40,142.03 L249.46,141.04 L249.52,140.04 L249.57,139.04 L249.63,138.04 L249.70,137.04 L249.76,136.05 L249.83,135.05 L249.89,134.05 L249.96,133.05 L250.03,132.05 L250.11,131.06 L250.18,130.06 L250.26,129.06 L250.34,128.07 L250.43,127.07 L250.51,126.07 L250.60,125.08 L250.69,124.08 L250.79,123.09 L250.88,122.09 L250.98,121.09 L251.08,120.10 L251.18,119.10 L251.29,118.11 L251.40,117.11 L251.51,116.12 L251.63,115.13 L251.75,114.14 L251.89,113.15 L252.03,112.16 L252.18,111.17 L252.33,110.18 L252.50,109.19 L252.68,108.21 L252.86,107.23 L253.05,106.24 L253.24,105.26 L253.45,104.28 L253.66,103.31 L253.88,102.33 L254.11,101.36 L254.35,100.39 L254.60,99.42 L254.86,98.45 L255.13,97.49 L255.40,96.53 L255.69,95.57 L255.99,94.61 L256.29,93.66 L256.62,92.71 L256.95,91.77 L257.30,90.83 L257.67,89.90 L258.05,88.98 L258.46,88.06 L258.88,87.16 L259.34,86.27 L259.83,85.40 L260.37,84.56 L260.97,83.77 L261.64,83.04 L262.36,82.34 L263.10,81.67 L263.86,81.01 L264.63,80.37 L265.42,79.75 L266.22,79.15 L267.04,78.57 L267.87,78.02 L268.72,77.50 L269.60,77.02 L270.48,76.55 L271.39,76.12 L272.31,75.72 L273.24,75.38 L274.18,75.07 L275.13,74.80 L276.10,74.56 L277.08,74.35 L278.06,74.19 L279.04,74.06 L280.03,73.95 L281.02,73.87 L282.01,73.81 L283.01,73.77 L284.00,73.75 L285.00,73.75 L285.99,73.76 L286.99,73.80 L287.99,73.84 L288.98,73.91 L289.98,73.98 L290.97,74.06 L291.96,74.15 L292.96,74.25 L293.95,74.36 L294.94,74.48 L295.93,74.62 L296.91,74.76 L297.90,74.91 L298.88,75.07 L299.86,75.25 L300.85,75.43 L301.83,75.61 L302.81,75.81 L303.78,76.01 L304.76,76.21 L305.74,76.42 L306.71,76.64 L307.69,76.86 L308.66,77.08 L309.64,77.31 L310.61,77.54 L311.59,77.77 L312.56,78.01 L313.54,78.26 L314.51,78.50 L315.48,78.75 L316.46,79.00 L317.43,79.26 L318.40,79.51 L319.38,79.76 L320.35,80.01 L321.32,80.26 L322.29,80.51 L323.26,80.76 L324.23,81.00 L325.20,81.25 L326.17,81.49 L327.13,81.74 L328.10,81.98 L329.06,82.22 L330.03,82.46 L330.99,82.69 L331.96,82.93 L332.92,83.16 L333.89,83.40 L334.85,83.63 L335.82,83.86 L336.79,84.09 L337.75,84.32 L338.73,84.55 L339.70,84.77 L340.67,85.00 L341.65,85.22 L342.63,85.44 L343.60,85.66 L344.59,85.88 L345.57,86.09 L346.55,86.31 L347.53,86.52 L348.51,86.73 L349.49,86.94 L350.48,87.14 L351.46,87.35 L352.44,87.55 L353.42,87.74 L354.41,87.94 L355.39,88.13 L356.37,88.32 L357.35,88.51 L358.33,88.69 L359.31,88.88 L360.29,89.06 L361.28,89.23 L362.26,89.41 L363.24,89.58 L364.22,89.74 L365.21,89.91 L366.19,90.07 L367.18,90.23 L368.16,90.39 L369.15,90.54 L370.14,90.69 L371.13,90.84 L372.12,90.99 L373.11,91.13 L374.10,91.27 L375.09,91.41 L376.08,91.55 L377.07,91.68 L378.07,91.81 L379.06,91.94 L380.05,92.06 L381.05,92.18 L382.04,92.30 L383.03,92.42 L384.03,92.53 L385.02,92.64 L386.01,92.75 L387.01,92.86 L388.00,92.97 L389.00,93.07 L389.99,93.17 L390.98,93.26 L391.98,93.36 L392.97,93.45 L393.97,93.54 L394.96,93.63 L395.96,93.71 L396.95,93.80 L397.95,93.88 L398.94,93.95 L399.94,94.03 L400.94,94.10 L401.93,94.18 L402.93,94.25 L403.93,94.31 L404.92,94.38 L405.92,94.44 L406.92,94.50 L407.92,94.56 L408.92,94.62 L409.91,94.67 L410.91,94.73 L411.91,94.78 L412.91,94.83 L413.91,94.88 L414.91,94.92 L415.91,94.97 L416.91,95.01 L417.91,95.05 L418.91,95.09 L419.91,95.13 L420.91,95.17 L421.91,95.21 L422.91,95.24 L423.91,95.27 L424.91,95.31 L425.91,95.34 L426.91,95.37 L427.91,95.39 L428.91,95.42 L429.90,95.45 L430.90,95.47 L431.90,95.50 L432.90,95.52 L433.90,95.54 L434.90,95.57 L435.90,95.59 L436.90,95.61 L437.90,95.63 L438.90,95.65 L439.90,95.67 L440.90,95.68 L441.90,95.70 L442.90,95.72 L443.90,95.74 L444.90,95.75 L445.90,95.77 L446.90,95.78 L447.90,95.80 L448.90,95.82 L449.90,95.83 L450.90,95.85 L451.90,95.86 L452.90,95.88 L453.90,95.89 L454.90,95.90 L455.90,95.92 L456.90,95.93 L457.90,95.94 L458.90,95.96 L459.90,95.97 L460.90,95.98 L461.89,95.99 L462.89,96.01 L463.89,96.02 L464.89,96.03 L465.89,96.04 L466.89,96.05 L467.89,96.06 L468.89,96.07 L469.89,96.08 L470.89,96.09 L471.89,96.10 L472.89,96.11 L473.89,96.12 L474.89,96.12 L475.89,96.13 L476.89,96.14 L477.89,96.15 L478.89,96.15 L479.89,96.16 L480.89,96.17 L481.89,96.17 L482.89,96.18 L483.89,96.18 L484.89,96.19 L485.89,96.19 L486.89,96.20 L487.89,96.20 L488.89,96.20 L489.89,96.21 L490.89,96.21 L491.89,96.21 L492.89,96.21 L493.89,96.22 L494.90,96.22 L495.90,96.22 L496.90,96.22 L497.90,96.22 L498.90,96.22 L499.90,96.22 L500.90,96.22 L501.90,96.22 L502.90,96.22 L503.90,96.22 L504.90,96.22 L505.90,96.22 L506.90,96.22 L507.90,96.22 L508.90,96.22 L509.90,96.21 L510.90,96.21 L511.90,96.21 L512.90,96.21 L513.90,96.21 L514.90,96.21 L515.90,96.21 L516.90,96.20 L517.90,96.20 L518.90,96.20 L519.90,96.20 L520.90,96.20 L521.90,96.20 L522.90,96.19 L523.90,96.19 L524.90,96.19 L525.90,96.19 L526.90,96.19 L527.90,96.19 L528.90,96.19 L529.90,96.19 L530.90,96.18 L531.90,96.18 L532.90,96.18 L533.90,96.18 L534.90,96.18 L535.90,96.18 L536.90,96.18 L537.90,96.18 L538.90,96.18 L539.90,96.18 L540.90,96.19 L541.90,96.19 L542.90,96.19 L543.90,96.19 L544.90,96.19 L545.90,96.19 L546.90,96.19 L547.90,96.19 L548.90,96.19 L549.90,96.19 L550.90,96.19 L551.90,96.19 L552.90,96.20 L553.90,96.20 L554.90,96.20 L555.90,96.20 L556.90,96.20 L557.90,96.20 L558.90,96.20 L559.90,96.20 L560.90,96.20 L561.90,96.21 L562.90,96.21 L563.90,96.21 L564.90,96.21 L565.90,96.21 L566.90,96.21 L567.90,96.21 L568.90,96.21 L569.90,96.21 L570.90,96.21 L571.90,96.21 L572.90,96.21 L573.90,96.21 L574.90,96.21 L575.90,96.21 L576.90,96.21 L577.90,96.21 L578.90,96.21 L579.90,96.21 L580.90,96.21 L581.90,96.21 L582.90,96.20 L583.90,96.20 L584.90,96.20 L585.90,96.20 L586.90,96.20 L587.90,96.20 L588.90,96.20 L589.90,96.20 L590.90,96.20 L591.90,96.20 L592.90,96.20 L593.90,96.20 L594.90,96.20 L595.89,96.19 L596.89,96.19 L597.89,96.19 L598.89,96.19 L599.89,96.19 L600.89,96.19 L601.88,96.19 L602.87,96.19 L603.86,96.19 L604.83,96.19 L605.80,96.19 L606.76,96.20 L607.70,96.20 L608.61,96.20 L609.50,96.20 L610.36,96.20 L611.18,96.20 L611.96,96.20 L612.69,96.20 L613.37,96.20 L614.00,96.21" stroke="#0097ff"/>
<path d="M106.02,383.00 L106.25,382.03 L106.47,381.06 L106.70,380.08 L106.92,379.11 L107.15,378.14 L107.38,377.16 L107.62,376.19 L107.85,375.22 L108.08,374.25 L108.32,373.27 L108.55,372.30 L108.79,371.33 L109.02,370.36 L109.26,369.39 L109.50,368.41 L109.74,367.44 L109.97,366.47 L110.21,365.50 L110.45,364.53 L110.68,363.55 L110.92,362.58 L111.16,361.61 L111.39,360.64 L111.62,359.66 L111.86,358.69 L112.09,357.72 L112.32,356.74 L112.55,355.77 L112.78,354.80 L113.00,353.82 L113.23,352.85 L113.45,351.87 L113.67,350.90 L113.89,349.92 L114.11,348.95 L114.33,347.97 L114.54,347.00 L114.76,346.02 L114.97,345.05 L115.18,344.07 L115.40,343.09 L115.61,342.12 L115.82,341.14 L116.03,340.16 L116.24,339.19 L116.45,338.21 L116.66,337.23 L116.87,336.26 L117.08,335.28 L117.29,334.30 L117.50,333.33 L117.71,332.35 L117.92,331.37 L118.13,330.40 L118.34,329.42 L118.56,328.45 L118.77,327.47 L118.98,326.50 L119.20,325.52 L119.41,324.55 L119.63,323.57 L119.85,322.60 L120.07,321.62 L120.29,320.65 L120.51,319.67 L120.74,318.70 L120.96,317.73 L121.19,316.76 L121.42,315.78 L121.65,314.81 L121.88,313.84 L122.12,312.87 L122.35,311.90 L122.59,310.93 L122.82,309.96 L123.06,308.99 L123.30,308.02 L123.54,307.05 L123.78,306.08 L124.03,305.11 L124.27,304.14 L124.51,303.17 L124.76,302.20 L125.00,301.24 L125.25,300.27 L125.49,299.30 L125.74,298.33 L125.99,297.36 L126.23,296.39 L126.48,295.43 L126.73,294.46 L126.98,293.49 L127.22,292.52 L127.47,291.55 L127.72,290.59 L127.96,289.62 L128.21,288.65 L128.46,287.68 L128.70,286.71 L128.95,285.74 L129.19,284.78 L129.44,283.81 L129.68,282.84 L129.92,281.87 L130.17,280.90 L130.41,279.93 L130.65,278.96 L130.89,277.99 L131.13,277.02 L131.37,276.05 L131.61,275.08 L131.85,274.11 L132.10,273.14 L132.34,272.18 L132.58,271.21 L132.82,270.24 L133.06,269.27 L133.31,268.30 L133.55,267.33 L133.79,266.36 L134.04,265.40 L134.29,264.43 L134.53,263.46 L134.78,262.50 L135.03,261.53 L135.28,260.56 L135.53,259.60 L135.78,258.63 L136.04,257.67 L136.29,256.70 L136.55,255.74 L136.81,254.77 L137.07,253.81 L137.33,252.85 L137.60,251.89 L137.87,250.93 L138.13,249.96 L138.41,249.00 L138.68,248.05 L138.95,247.09 L139.23,246.13 L139.51,245.17 L139.79,244.21 L140.07,243.26 L140.36,242.30 L140.64,241.34 L140.93,240.39 L141.22,239.43 L141.51,238.48 L141.80,237.53 L142.09,236.57 L142.39,235.62 L142.68,234.66 L142.97,233.71 L143.27,232.76 L143.56,231.80 L143.86,230.85 L144.15,229.90 L144.45,228.94 L144.75,227.99 L145.04,227.04 L145.34,226.09 L145.63,225.13 L145.93,224.18 L146.22,223.23 L146.52,222.27 L146.81,221.32 L147.10,220.36 L147.39,219.41 L147.68,218.45 L147.97,217.50 L148.26,216.54 L148.54,215.59 L148.83,214.63 L149.11,213.67 L149.39,212.72 L149.67,211.76 L149.95,210.80 L150.23,209.84 L150.51,208.88 L150.78,207.92 L151.06,206.96 L151.33,206.00 L151.61,205.04 L151.88,204.08 L152.15,203.12 L152.43,202.16 L152.70,201.20 L152.97,200.25 L153.25,199.29 L153.52,198.33 L153.80,197.37 L154.07,196.41 L154.35,195.45 L154.62,194.49 L154.90,193.53 L155.18,192.57 L155.46,191.62 L155.74,190.66 L156.02,189.70 L156.31,188.75 L156.59,187.79 L156.88,186.84 L157.17,185.88 L157.46,184.93 L157.76,183.98 L158.05,183.03 L158.35,182.07 L158.65,181.12 L158.96,180.18 L159.26,179.23 L159.57,178.28 L159.88,177.33 L160.20,176.39 L160.51,175.44 L160.83,174.50 L161.16,173.55 L161.48,172.61 L161.81,171.67 L162.13,170.73 L162.47,169.79 L162.80,168.85 L163.13,167.91 L163.47,166.97 L163.81,166.03 L164.15,165.10 L164.49,164.16 L164.83,163.22 L165.18,162.29 L165.52,161.35 L165.87,160.42 L166.22,159.48 L166.57,158.55 L166.92,157.61 L167.28,156.68 L167.63,155.75 L167.99,154.81 L168.34,153.88 L168.70,152.95 L169.06,152.02 L169.42,151.09 L169.78,150.15 L170.14,149.22 L170.50,148.29 L170.86,147.36 L171.22,146.43 L171.58,145.50 L171.95,144.57 L172.31,143.63 L172.67,142.70 L173.04,141.77 L173.40,140.84 L173.77,139.91 L174.13,138.98 L174.50,138.05 L174.87,137.12 L175.24,136.19 L175.61,135.26 L175.98,134.34 L176.35,133.41 L176.72,132.48 L177.09,131.55 L177.47,130.62 L177.85,129.70 L178.22,128.77 L178.60,127.85 L178.98,126.92 L179.36,126.00 L179.74,125.07 L180.13,124.15 L180.51,123.23 L180.90,122.31 L181.29,121.39 L181.68,120.47 L182.07,119.55 L182.47,118.63 L182.86,117.71 L183.26,116.80 L183.66,115.88 L184.06,114.97 L184.46,114.05 L184.87,113.14 L185.27,112.23 L185.68,111.32 L186.09,110.41 L186.51,109.50 L186.92,108.59 L187.34,107.68 L187.76,106.78 L188.18,105.87 L188.60,104.97 L189.03,104.07 L189.46,103.16 L189.89,102.26 L190.32,101.36 L190.75,100.46 L191.18,99.56 L191.62,98.67 L192.06,97.77 L192.50,96.87 L192.94,95.98 L193.39,95.08 L193.83,94.19 L194.28,93.30 L194.73,92.41 L195.18,91.52 L195.63,90.63 L196.09,89.74 L196.54,88.85 L197.00,87.96 L197.46,87.08 L197.92,86.19 L198.39,85.30 L198.85,84.42 L199.32,83.54 L199.79,82.65 L200.26,81.77 L200.73,80.89 L201.20,80.01 L201.68,79.13 L202.16,78.25 L202.64,77.38 L203.12,76.50 L203.61,75.63 L204.09,74.75 L204.57,73.87 L205.05,73.00 L205.54,72.12 L206.02,71.25 L206.51,70.38 L207.00,69.51 L207.49,68.64 L207.99,67.77 L208.48,66.90 L208.99,66.04 L209.49,65.17 L210.00,64.31 L210.51,63.45 L211.03,62.60 L211.55,61.74 L212.07,60.89 L212.60,60.04 L213.12,59.19 L213.66,58.34 L214.19,57.49 L214.73,56.65 L215.27,55.80 L215.80,54.96 L216.34,54.12 L216.88,53.28 L217.42,52.44 L217.97,51.60 L218.52,50.76 L219.07,49.93 L219.63,49.10 L220.19,48.27 L220.75,47.44 L221.31,46.62 L221.88,45.79 L222.43,44.96 L222.99,44.13 L223.54,43.29 L224.08,42.45 L224.62,41.61 L225.15,40.76 L225.69,39.92 L226.22,39.07 L226.75,38.22 L227.27,37.37 L227.80,36.52 L228.32,35.67 L228.85,34.82 L229.37,33.97 L229.90,33.12 L230.42,32.26 L230.95,31.41 L231.47,30.56 L231.99,29.71 L232.52,28.86 L233.04,28.00 L233.56,27.15 L234.08,26.30 L234.60,25.44 L235.12,24.59 L235.64,23.74 L236.14,22.92 L236.58,22.20 L236.89,21.67 M257.05,28.00 L257.05,366.40 M258.90,380.00 L258.90,379.00 L258.91,378.00 L258.91,377.00 L258.92,376.00 L258.92,375.00 L258.93,374.00 L258.93,373.00 L258.94,372.00 L258.94,371.00 L258.95,370.00 L258.95,369.00 L258.96,368.00 L258.96,367.00 L258.97,366.00 L258.98,365.00 L258.98,364.00 L258.99,363.00 L258.99,362.00 L259.00,361.00 L259.01,360.00 L259.01,359.00 L259.02,358.00 L259.03,357.00 L259.03,356.00 L259.04,355.00 L259.05,354.00 L259.05,353.00 L259.06,352.00 L259.07,351.00 L259.07,350.00 L259.08,349.00 L259.09,348.00 L259.09,347.00 L259.10,346.00 L259.11,345.00 L259.11,344.00 L259.12,343.00 L259.13,342.00 L259.13,341.00 L259.14,340.00 L259.15,339.00 L259.16,338.00 L259.16,337.00 L259.17,336.00 L259.18,335.00 L259.19,334.00 L259.19,333.00 L259.20,332.00 L259.21,331.00 L259.22,330.00 L259.22,329.00 L259.23,328.00 L259.24,327.00 L259.25,326.00 L259.25,325.00 L259.26,324.00 L259.27,323.00 L259.28,322.00 L259.29,321.00 L259.29,320.00 L259.30,319.00 L259.31,318.00 L259.32,317.00 L259.33,316.00 L259.34,315.00 L259.34,314.00 L259.35,313.00 L259.36,312.00 L259.37,311.00 L259.38,310.00 L259.39,309.00 L259.40,308.00 L259.41,307.00 L259.42,306.00 L259.42,305.00 L259.43,304.00 L259.44,303.00 L259.45,302.00 L259.46,301.00 L259.47,300.00 L259.48,299.00 L259.49,298.00 L259.50,297.00 L259.51,296.00 L259.52,295.00 L259.53,294.00 L259.54,293.00 L259.55,292.00 L259.56,291.00 L259.57,290.00 L259.58,289.00 L259.59,288.00 L259.60,287.00 L259.61,286.00 L259.62,285.00 L259.63,284.00 L259.64,283.00 L259.65,282.00 L259.67,281.00 L259.68,280.00 L259.69,279.00 L259.70,278.00 L259.71,277.00 L259.72,276.00 L259.73,275.00 L259.74,274.00 L259.76,273.00 L259.77,272.00 L259.78,271.00 L259.79,270.00 L259.80,269.00 L259.82,268.00 L259.83,267.00 L259.84,266.00 L259.85,265.00 L259.87,264.00 L259.88,263.00 L259.89,262.00 L259.90,261.00 L259.92,260.00 L259.93,259.00 L259.94,258.00 L259.96,257.00 L259.97,256.00 L259.98,255.00 L260.00,254.00 L260.01,253.00 L260.02,252.00 L260.04,251.01 L260.05,250.01 L260.06,249.01 L260.08,248.01 L260.09,247.01 L260.11,246.01 L260.12,245.01 L260.14,244.01 L260.15,243.01 L260.17,242.01 L260.19,241.01 L260.20,240.01 L260.22,239.01 L260.24,238.01 L260.25,237.01 L260.27,236.01 L260.29,235.01 L260.31,234.01 L260.33,233.01 L260.34,232.01 L260.36,231.01 L260.38,230.01 L260.40,229.01 L260.42,228.01 L260.44,227.01 L260.46,226.01 L260.48,225.01 L260.50,224.01 L260.52,223.01 L260.54,222.01 L260.57,221.01 L260.59,220.01 L260.61,219.01 L260.63,218.01 L260.65,217.01 L260.68,216.01 L260.70,215.01 L260.72,214.01 L260.75,213.01 L260.77,212.01 L260.79,211.01 L260.82,210.01 L260.84,209.01 L260.87,208.01 L260.89,207.01 L260.92,206.01 L260.94,205.01 L260.97,204.01 L260.99,203.01 L261.02,202.01 L261.05,201.01 L261.07,200.01 L261.10,199.01 L261.13,198.01 L261.15,197.02 L261.18,196.02 L261.21,195.02 L261.24,194.02 L261.26,193.02 L261.29,192.02 L261.32,191.02 L261.35,190.02 L261.38,189.02 L261.41,188.02 L261.44,187.02 L261.47,186.02 L261.50,185.02 L261.53,184.02 L261.56,183.02 L261.59,182.02 L261.62,181.02 L261.65,180.02 L261.68,179.02 L261.71,178.02 L261.74,177.02 L261.77,176.02 L261.81,175.02 L261.84,174.03 L261.87,173.03 L261.90,172.03 L261.94,171.03 L261.97,170.03 L262.00,169.03 L262.04,168.03 L262.08,167.03 L262.12,166.03 L262.16,165.03 L262.20,164.03 L262.25,163.03 L262.29,162.03 L262.34,161.04 L262.38,160.04 L262.43,159.04 L262.48,158.04 L262.52,157.04 L262.57,156.04 L262.61,155.04 L262.66,154.04 L262.71,153.04 L262.75,152.05 L262.80,151.05 L262.85,150.05 L262.90,149.05 L262.95,148.05 L263.00,147.05 L263.05,146.05 L263.10,145.05 L263.15,144.06 L263.20,143.06 L263.25,142.06 L263.30,141.06 L263.36,140.06 L263.41,139.06 L263.46,138.06 L263.52,137.06 L263.58,136.07 L263.64,135.07 L263.70,134.07 L263.76,133.07 L263.83,132.07 L263.90,131.08 L263.98,130.08 L264.05,129.08 L264.14,128.09 L264.22,127.09 L264.31,126.09 L264.40,125.10 L264.49,124.10 L264.59,123.11 L264.69,122.11 L264.79,121.12 L264.90,120.12 L265.01,119.13 L265.13,118.13 L265.25,117.14 L265.37,116.15 L265.50,115.16 L265.64,114.17 L265.78,113.18 L265.93,112.19 L266.09,111.20 L266.26,110.22 L266.44,109.23 L266.63,108.25 L266.82,107.27 L267.02,106.29 L267.22,105.31 L267.43,104.33 L267.65,103.36 L267.87,102.38 L268.10,101.41 L268.34,100.44 L268.59,99.47 L268.84,98.50 L269.09,97.53 L269.35,96.56 L269.61,95.60 L269.87,94.63 L270.13,93.67 L270.40,92.70 L270.66,91.74 L270.94,90.78 L271.22,89.82 L271.51,88.86 L271.81,87.91 L272.13,86.96 L272.47,86.02 L272.82,85.09 L273.19,84.16 L273.57,83.23 L273.95,82.31 L274.35,81.40 L274.77,80.49 L275.21,79.59 L275.68,78.70 L276.17,77.83 L276.69,76.96 L277.24,76.12 L277.81,75.32 L278.42,74.56 L279.07,73.84 L279.76,73.17 L280.50,72.53 L281.27,71.92 L282.08,71.34 L282.92,70.81 L283.78,70.33 L284.66,69.90 L285.56,69.52 L286.47,69.18 L287.40,68.88 L288.34,68.61 L289.29,68.38 L290.26,68.16 L291.23,67.96 L292.20,67.78 L293.18,67.62 L294.16,67.46 L295.14,67.33 L296.13,67.22 L297.13,67.12 L298.12,67.04 L299.11,66.97 L300.11,66.92 L301.11,66.89 L302.11,66.86 L303.10,66.85 L304.10,66.86 L305.10,66.87 L306.10,66.90 L307.09,66.94 L308.09,66.98 L309.09,67.04 L310.09,67.11 L311.08,67.18 L312.08,67.26 L313.08,67.35 L314.07,67.45 L315.07,67.55 L316.07,67.66 L317.06,67.78 L318.06,67.89 L319.05,68.01 L320.05,68.12 L321.04,68.24 L322.04,68.36 L323.03,68.47 L324.03,68.59 L325.02,68.70 L326.02,68.82 L327.01,68.93 L328.01,69.05 L329.00,69.16 L329.99,69.27 L330.99,69.38 L331.98,69.49 L332.98,69.60 L333.97,69.71 L334.97,69.82 L335.96,69.92 L336.96,70.03 L337.95,70.13 L338.94,70.24 L339.94,70.34 L340.93,70.44 L341.93,70.54 L342.93,70.64 L343.92,70.73 L344.92,70.83 L345.91,70.92 L346.91,71.02 L347.90,71.11 L348.90,71.20 L349.90,71.29 L350.89,71.37 L351.89,71.46 L352.88,71.54 L353.88,71.62 L354.88,71.70 L355.87,71.78 L356.87,71.85 L357.87,71.92 L358.86,72.00 L359.86,72.06 L360.86,72.13 L361.85,72.20 L362.85,72.26 L363.85,72.32 L364.85,72.38 L365.85,72.43 L366.84,72.49 L367.84,72.54 L368.84,72.59 L369.84,72.64 L370.84,72.68 L371.84,72.73 L372.84,72.77 L373.84,72.81 L374.83,72.85 L375.83,72.89 L376.83,72.92 L377.83,72.96 L378.83,72.99 L379.83,73.02 L380.83,73.05 L381.83,73.08 L382.83,73.10 L383.83,73.13 L384.83,73.15 L385.83,73.17 L386.83,73.20 L387.83,73.22 L388.83,73.23 L389.83,73.25 L390.83,73.27 L391.83,73.28 L392.83,73.30 L393.83,73.31 L394.83,73.32 L395.83,73.33 L396.83,73.35 L397.83,73.36 L398.83,73.36 L399.83,73.37 L400.83,73.38 L401.83,73.39 L402.83,73.39 L403.83,73.40 L404.83,73.41 L405.83,73.41 L406.83,73.41 L407.83,73.42 L408.83,73.42 L409.83,73.42 L410.83,73.43 L411.83,73.43 L412.83,73.43 L413.83,73.43 L414.83,73.43 L415.83,73.43 L416.83,73.43 L417.83,73.43 L418.83,73.43 L419.83,73.43 L420.83,73.43 L421.83,73.43 L422.83,73.43 L423.83,73.43 L424.83,73.43 L425.83,73.43 L426.83,73.42 L427.83,73.42 L428.83,73.42 L429.83,73.42 L430.83,73.42 L431.83,73.41 L432.83,73.41 L433.83,73.41 L434.83,73.41 L435.83,73.40 L436.83,73.40 L437.83,73.40 L438.83,73.40 L439.83,73.39 L440.83,73.39 L441.83,73.39 L442.83,73.39 L443.83,73.39 L444.83,73.39 L445.83,73.38 L446.83,73.38 L447.83,73.38 L448.83,73.38 L449.83,73.38 L450.83,73.38 L451.83,73.38 L452.83,73.38 L453.83,73.38 L454.83,73.38 L455.83,73.38 L456.83,73.38 L457.83,73.38 L458.83,73.38 L459.83,73.38 L460.83,73.38 L461.83,73.38 L462.83,73.38 L463.83,73.38 L464.83,73.38 L465.83,73.39 L466.83,73.39 L467.83,73.39 L468.83,73.39 L469.83,73.39 L470.83,73.39 L471.83,73.39 L472.83,73.39 L473.83,73.40 L474.83,73.40 L475.83,73.40 L476.83,73.40 L477.83,73.40 L478.83,73.40 L479.83,73.40 L480.83,73.40 L481.83,73.40 L482.83,73.41 L483.83,73.41 L484.83,73.41 L485.83,73.41 L486.83,73.41 L487.83,73.41 L488.83,73.41 L489.83,73.41 L490.83,73.41 L491.83,73.41 L492.83,73.41 L493.83,73.41 L494.83,73.41 L495.83,73.41 L496.83,73.41 L497.83,73.41 L498.83,73.41 L499.83,73.41 L500.83,73.41 L501.83,73.41 L502.83,73.41 L503.83,73.41 L504.83,73.41 L505.83,73.41 L506.83,73.41 L507.83,73.41 L508.83,73.41 L509.83,73.41 L510.83,73.41 L511.83,73.40 L512.83,73.40 L513.83,73.40 L514.83,73.40 L515.83,73.40 L516.83,73.40 L517.83,73.40 L518.83,73.40 L519.83,73.40 L520.83,73.40 L521.83,73.40 L522.83,73.40 L523.83,73.40 L524.83,73.40 L525.83,73.40 L526.83,73.39 L527.83,73.39 L528.83,73.39 L529.83,73.39 L530.83,73.39 L531.83,73.39 L532.83,73.39 L533.83,73.39 L534.83,73.39 L535.83,73.39 L536.83,73.39 L537.83,73.39 L538.83,73.39 L539.83,73.39 L540.83,73.39 L541.83,73.39 L542.83,73.39 L543.83,73.39 L544.83,73.40 L545.83,73.40 L546.83,73.40 L547.83,73.40 L548.83,73.40 L549.83,73.40 L550.83,73.40 L551.83,73.40 L552.83,73.40 L553.83,73.40 L554.83,73.40 L555.83,73.40 L556.83,73.40 L557.83,73.40 L558.83,73.40 L559.83,73.40 L560.83,73.40 L561.83,73.40 L562.83,73.40 L563.83,73.40 L564.83,73.40 L565.83,73.40 L566.83,73.40 L567.83,73.40 L568.83,73.40 L569.83,73.40 L570.83,73.40 L571.83,73.40 L572.83,73.40 L573.83,73.40 L574.83,73.40 L575.83,73.40 L576.83,73.40 L577.83,73.40 L578.83,73.40 L579.83,73.40 L580.83,73.40 L581.83,73.40 L582.83,73.40 L583.83,73.40 L584.83,73.40 L585.83,73.40 L586.83,73.40 L587.83,73.40 L588.83,73.40 L589.83,73.40 L590.83,73.40 L591.83,73.40 L592.83,73.40 L593.83,73.40 L594.83,73.40 L595.83,73.40 L596.83,73.40 L597.83,73.40 L598.83,73.40 L599.82,73.40 L600.82,73.40 L601.82,73.40 L602.81,73.40 L603.79,73.40 L604.78,73.40 L605.75,73.40 L606.71,73.40 L607.66,73.40 L608.59,73.40 L609.50,73.40 L610.38,73.40 L611.23,73.40 L612.05,73.40 L612.83,73.40 L613.57,73.40 L614.26,73.40" stroke="#4200ff"/>
</g>
<g stroke="#000" stroke-width="1">
<line x1="80.00" y1="346.50" x2="84.00" y2="346.50"/>
<line x1="80.00" y1="332.50" x2="84.00" y2="332.50"/>
<line x1="80.00" y1="317.50" x2="84.00" y2="317.50"/>
<line x1="80.00" y1="303.50" x2="84.00" y2="303.50"/>
<line x1="80.00" y1="288.50" x2="86.60" y2="288.50"/>
<line x1="80.00" y1="273.50" x2="84.00" y2="273.50"/>
<line x1="80.00" y1="259.50" x2="84.00" y2="259.50"/>
<line x1="80.00" y1="244.50" x2="84.00" y2="244.50"/>
<line x1="80.00" y1="230.50" x2="84.00" y2="230.50"/>
<line x1="80.00" y1="215.50" x2="86.60" y2="215.50"/>
<line x1="80.00" y1="200.50" x2="84.00" y2="200.50"/>
<line x1="80.00" y1="186.50" x2="84.00" y2="186.50"/>
<line x1="80.00" y1="171.50" x2="84.00" y2="171.50"/>
<line x1="80.00" y1="157.50" x2="84.00" y2="157.50"/>
<line x1="80.00" y1="142.50" x2="86.60" y2="142.50"/>
<line x1="80.00" y1="127.50" x2="84.00" y2="127.50"/>
<line x1="80.00" y1="113.50" x2="84.00" y2="113.50"/>
<line x1="80.00" y1="98.50" x2="84.00" y2="98.50"/>
<line x1="80.00" y1="84.50" x2="84.00" y2="84.50"/>
<line x1="80.00" y1="69.50" x2="86.60" y2="69.50"/>
<line x1="80.00" y1="54.50" x2="84.00" y2="54.50"/>
<line x1="80.00" y1="40.50" x2="84.00" y2="40.50"/>
</g>
<g stroke="#a4a4a4" stroke-width="1">
<line x1="115.50" y1="361.40" x2="115.50" y2="358.50"/>
<line x1="150.50" y1="361.40" x2="150.50" y2="358.50"/>
<line x1="186.50" y1="361.40" x2="186.50" y2="358.50"/>
<line x1="221.50" y1="361.40" x2="221.50" y2="356.00"/>
<line x1="257.50" y1="361.40" x2="257.50" y2="358.50"/>
<line x1="292.50" y1="361.40" x2="292.50" y2="358.50"/>
<line x1="328.50" y1="361.40" x2="328.50" y2="358.50"/>
<line x1="363.50" y1="361.40" x2="363.50" y2="356.00"/>
<line x1="399.50" y1="361.40" x2="399.50" y2="358.50"/>
<line x1="434.50" y1="361.40" x2="434.50" y2="358.50"/>
<line x1="470.50" y1="361.40" x2="470.50" y2="358.50"/>
<line x1="505.50" y1="361.40" x2="505.50" y2="356.00"/>
<line x1="541.50" y1="361.40" x2="541.50" y2="358.50"/>
<line x1="576.50" y1="361.40" x2="576.50" y2="358.50"/>
<line x1="611.30" y1="361.40" x2="611.30" y2="358.50"/>
</g>
<line x1="80.05" y1="33.0" x2="80.05" y2="361.9" stroke="#000" stroke-width="1.0"/>
<line x1="79.55" y1="361.4" x2="611.8" y2="361.4" stroke="#000" stroke-width="1.15"/>
<g fill="#000">
<text transform="translate(75.00,75.19) scale(1,1.000)" font-size="15.6" text-anchor="end">10</text><rect class="t" x="49.0" y="70.24" width="7.4" height="1.1"/>
<text transform="translate(75.00,148.17) scale(1,1.000)" font-size="15.6" text-anchor="end">20</text><rect class="t" x="49.0" y="143.22" width="7.4" height="1.1"/>
<text transform="translate(75.00,221.14) scale(1,1.000)" font-size="15.6" text-anchor="end">30</text><rect class="t" x="49.0" y="216.19" width="7.4" height="1.1"/>
<text transform="translate(75.00,294.12) scale(1,1.000)" font-size="15.6" text-anchor="end">40</text><rect class="t" x="49.0" y="289.17" width="7.4" height="1.1"/>
<text transform="translate(75.00,367.10) scale(1,1.000)" font-size="15.6" text-anchor="end">50</text><rect class="t" x="49.0" y="362.15" width="7.4" height="1.1"/>
<text transform="translate(64.70,380.60) scale(1,1.000)" font-size="15.6" text-anchor="start">10</text>
<rect class="t" x="82.5" y="372.0" width="5.6" height="1.1"/>
<text transform="translate(88.10,375.90) scale(1,1.100)" font-size="11.5" text-anchor="start">5</text>
<text transform="translate(221.70,387.80) scale(1,1.000)" font-size="15.6" text-anchor="middle">0.1</text>
<text transform="translate(363.60,387.80) scale(1,1.000)" font-size="15.6" text-anchor="middle">1000</text>
<text transform="translate(493.00,380.60) scale(1,1.000)" font-size="15.6" text-anchor="start">10</text>
<text transform="translate(510.60,375.60) scale(1,1.100)" font-size="11.5" text-anchor="start">7</text>
<text transform="translate(625.30,367.40) scale(1,1.000)" font-size="15.6" text-anchor="start">u</text>
<line x1="662.6" y1="100.50" x2="698" y2="100.50" stroke="#ff0000" stroke-width="1.6"/>
<text transform="translate(709.70,106.90) scale(1,1.000)" font-size="22.8" text-anchor="start" style="stroke-width:0.3px">L</text>
<rect class="t" x="724.2" y="97.55" width="10.8" height="1.7"/><rect class="t" x="724.2" y="102.35" width="10.8" height="1.7"/>
<text transform="translate(736.00,106.90) scale(1,1.000)" font-size="22.8" text-anchor="start" style="stroke-width:0.3px">7</text>
<line x1="662.6" y1="138.46" x2="698" y2="138.46" stroke="#ffd900" stroke-width="1.6"/>
<text transform="translate(709.70,144.86) scale(1,1.000)" font-size="22.8" text-anchor="start" style="stroke-width:0.3px">L</text>
<rect class="t" x="724.2" y="135.51" width="10.8" height="1.7"/><rect class="t" x="724.2" y="140.31" width="10.8" height="1.7"/>
<text transform="translate(736.00,144.86) scale(1,1.000)" font-size="22.8" text-anchor="start" style="stroke-width:0.3px">6</text>
<line x1="662.6" y1="176.42" x2="698" y2="176.42" stroke="#4bff00" stroke-width="1.6"/>
<text transform="translate(709.70,182.82) scale(1,1.000)" font-size="22.8" text-anchor="start" style="stroke-width:0.3px">L</text>
<rect class="t" x="724.2" y="173.47" width="10.8" height="1.7"/><rect class="t" x="724.2" y="178.27" width="10.8" height="1.7"/>
<text transform="translate(736.00,182.82) scale(1,1.000)" font-size="22.8" text-anchor="start" style="stroke-width:0.3px">5</text>
<line x1="662.6" y1="214.38" x2="698" y2="214.38" stroke="#00ff8e" stroke-width="1.6"/>
<text transform="translate(709.70,220.78) scale(1,1.000)" font-size="22.8" text-anchor="start" style="stroke-width:0.3px">L</text>
<rect class="t" x="724.2" y="211.43" width="10.8" height="1.7"/><rect class="t" x="724.2" y="216.23" width="10.8" height="1.7"/>
<text transform="translate(736.00,220.78) scale(1,1.000)" font-size="22.8" text-anchor="start" style="stroke-width:0.3px">4</text>
<line x1="662.6" y1="252.34" x2="698" y2="252.34" stroke="#0097ff" stroke-width="1.6"/>
<text transform="translate(709.70,258.74) scale(1,1.000)" font-size="22.8" text-anchor="start" style="stroke-width:0.3px">L</text>
<rect class="t" x="724.2" y="249.39" width="10.8" height="1.7"/><rect class="t" x="724.2" y="254.19" width="10.8" height="1.7"/>
<text transform="translate(736.00,258.74) scale(1,1.000)" font-size="22.8" text-anchor="start" style="stroke-width:0.3px">3</text>
<line x1="662.6" y1="290.30" x2="698" y2="290.30" stroke="#4200ff" stroke-width="1.6"/>
<text transform="translate(709.70,296.70) scale(1,1.000)" font-size="22.8" text-anchor="start" style="stroke-width:0.3px">L</text>
<rect class="t" x="724.2" y="287.35" width="10.8" height="1.7"/><rect class="t" x="724.2" y="292.15" width="10.8" height="1.7"/>
<text transform="translate(736.00,296.70) scale(1,1.000)" font-size="22.8" text-anchor="start" style="stroke-width:0.3px">2</text>
</g>
<g id="title" fill="#000">
<path class="t" d="M9.7,9.9 C9.3,8.3 7.8,7.4 6.0,7.4 C4.0,7.4 2.5,8.4 2.5,9.9 C2.5,11.2 3.6,12.1 5.0,12.2 L6.9,12.3 M5.0,12.2 C2.8,12.4 0.9,13.6 0.9,15.6 C0.9,17.6 2.5,18.8 4.8,18.8 C7.5,18.8 9.8,17.2 9.8,14.6 M0.9,15.6 L0.1,15.9" transform="translate(0.00,1.34) scale(1,0.95)" fill="none" stroke="#000" stroke-width="1.25" stroke-linecap="round" stroke-linejoin="round"/>
<text transform="translate(10.70,14.60) scale(1,1.250)" font-size="11.2" text-anchor="start">(</text>
<text transform="translate(14.40,13.60) scale(1,1.000)" font-size="11.2" text-anchor="start" font-style="italic">L</text>
<text transform="translate(20.90,14.60) scale(1,1.250)" font-size="11.2" text-anchor="start">)</text>
<text transform="translate(25.20,19.50) scale(1,0.975)" font-size="16.0" text-anchor="start">(u,u,1)/</text>
<path class="t" d="M9.7,9.9 C9.3,8.3 7.8,7.4 6.0,7.4 C4.0,7.4 2.5,8.4 2.5,9.9 C2.5,11.2 3.6,12.1 5.0,12.2 L6.9,12.3 M5.0,12.2 C2.8,12.4 0.9,13.6 0.9,15.6 C0.9,17.6 2.5,18.8 4.8,18.8 C7.5,18.8 9.8,17.2 9.8,14.6 M0.9,15.6 L0.1,15.9" transform="translate(76.00,1.34) scale(1,0.95)" fill="none" stroke="#000" stroke-width="1.25" stroke-linecap="round" stroke-linejoin="round"/>
<text transform="translate(86.30,14.60) scale(1,1.250)" font-size="11.2" text-anchor="start">(</text>
<text transform="translate(90.20,13.60) scale(1,1.000)" font-size="11.2" text-anchor="start" font-style="italic">L</text>
<text transform="translate(96.90,13.60) scale(1,1.000)" font-size="11.2" text-anchor="start">−</text>
<text transform="translate(102.50,13.60) scale(1,1.000)" font-size="11.2" text-anchor="start">1</text>
<text transform="translate(109.70,14.60) scale(1,1.250)" font-size="11.2" text-anchor="start">)</text>
<text transform="translate(113.40,19.50) scale(1,0.975)" font-size="16.0" text-anchor="start">(u,u,1)</text>
</g>
</svg>
</body></html>
